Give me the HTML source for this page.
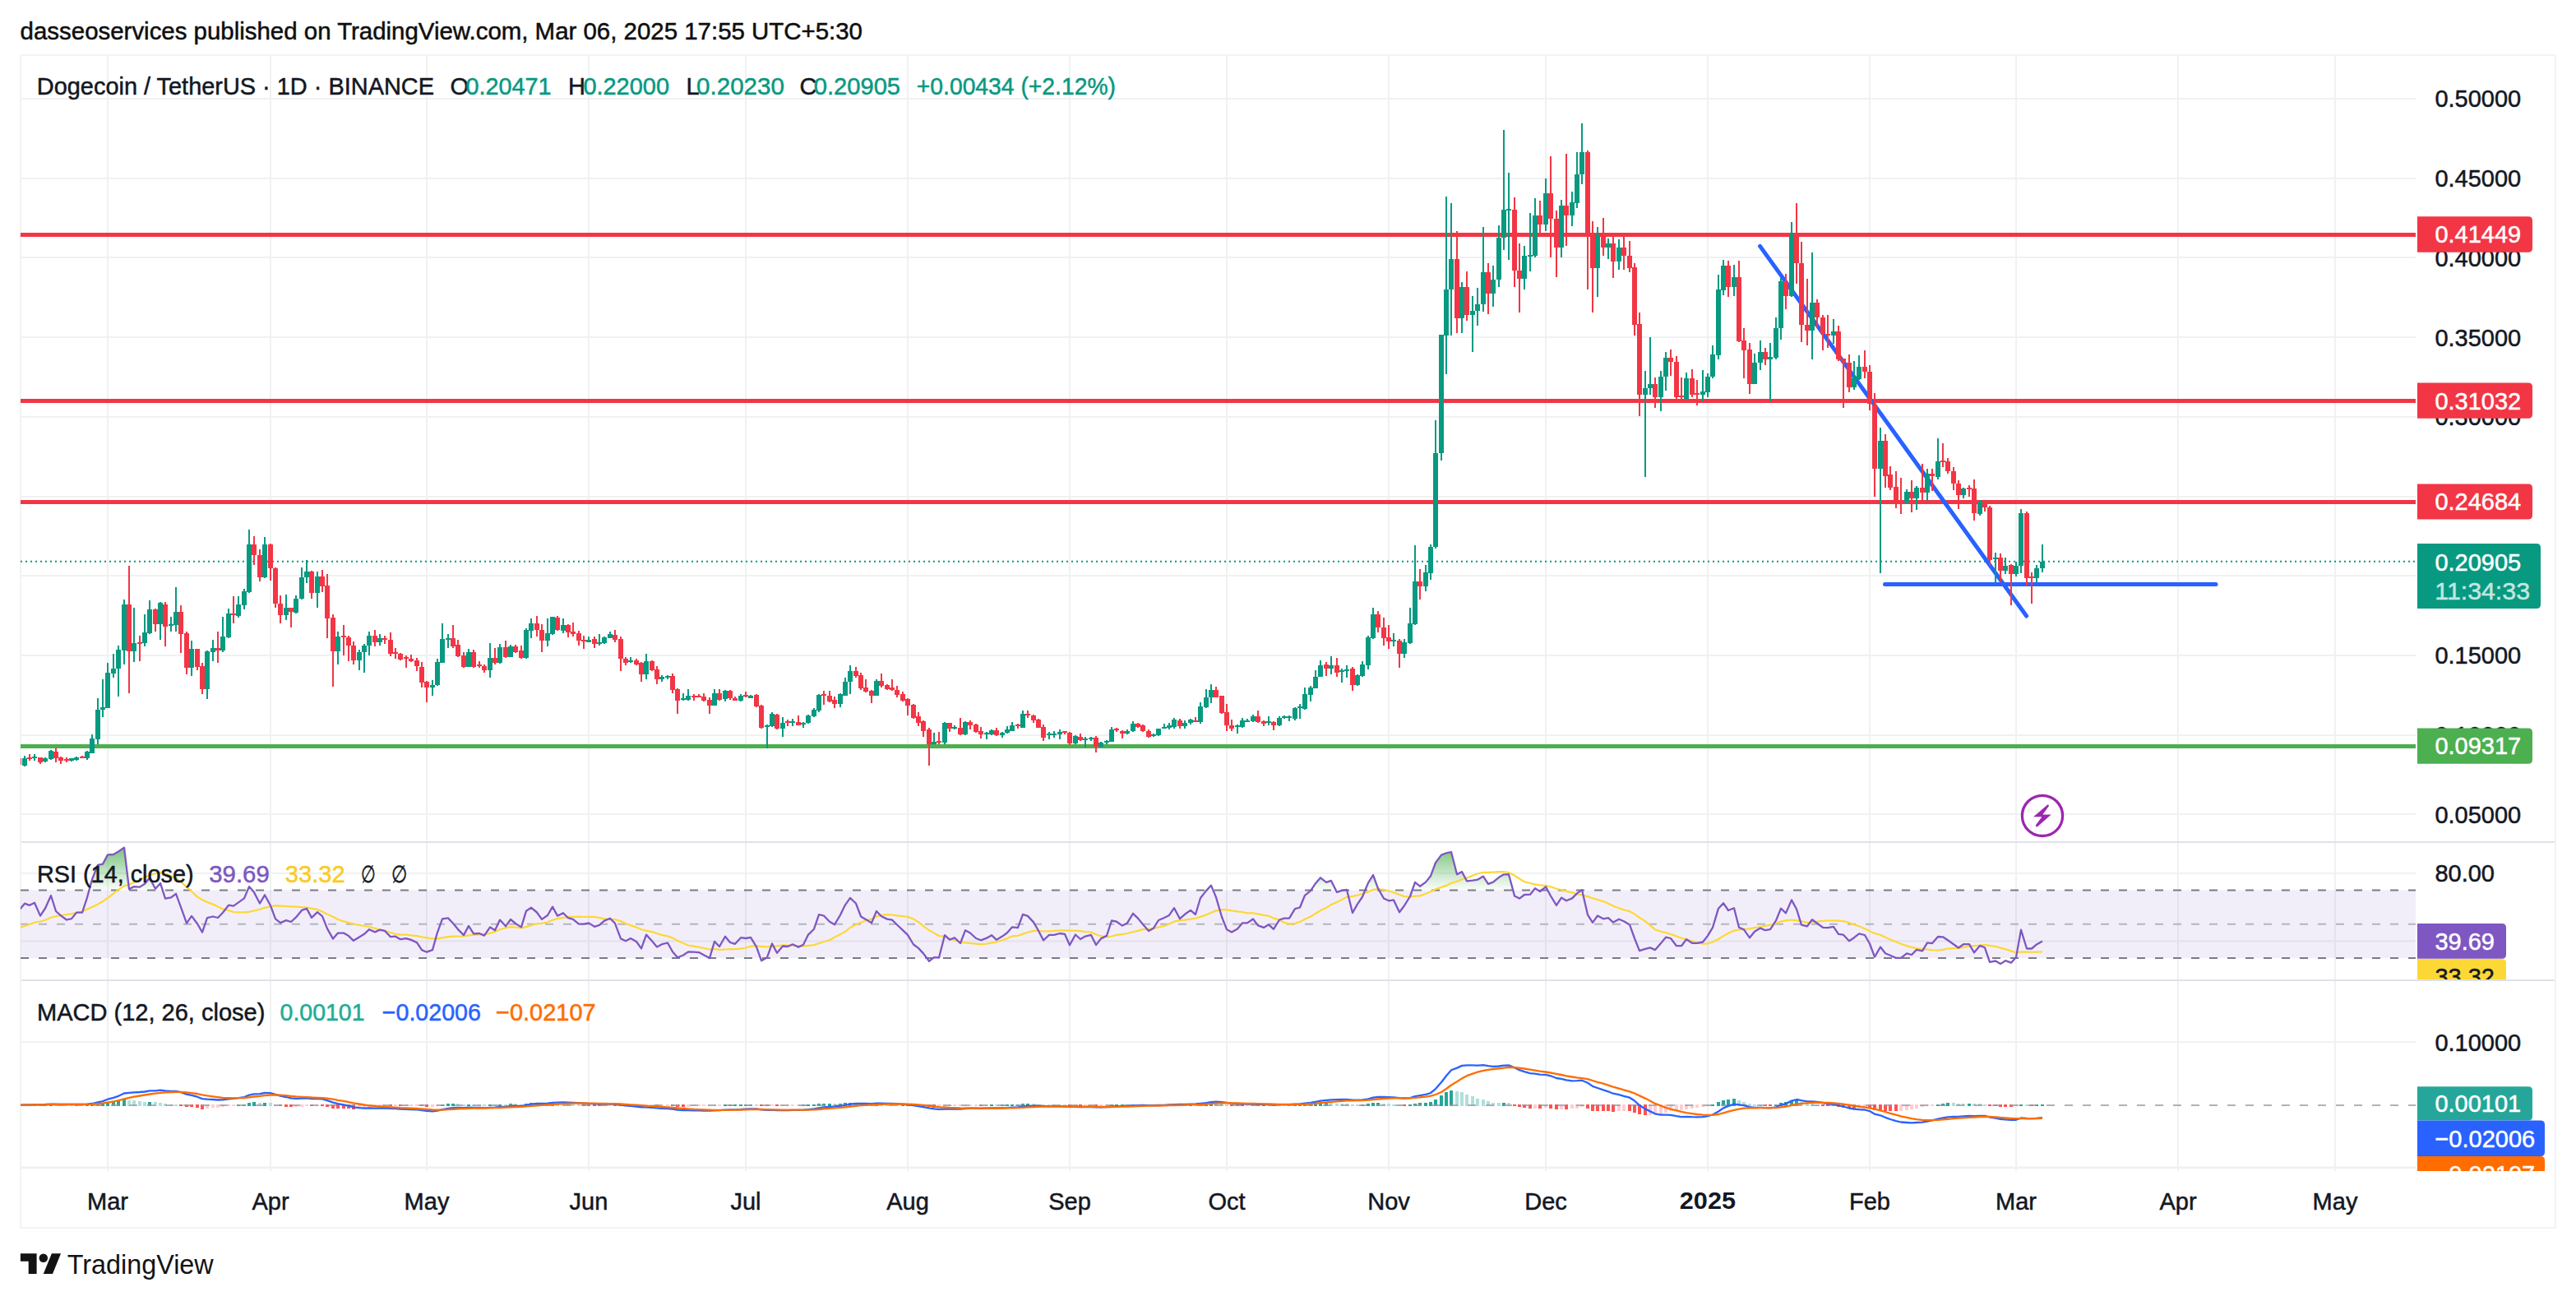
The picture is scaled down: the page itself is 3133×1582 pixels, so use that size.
<!DOCTYPE html><html><head><meta charset="utf-8"><style>html,body{margin:0;padding:0;background:#fff;width:3133px;height:1582px;overflow:hidden;position:relative}</style></head><body><svg width="3133" height="1582" viewBox="0 0 3133 1582" style="position:absolute;left:0;top:0"><rect width="3133" height="1582" fill="#ffffff"/><defs><clipPath id="cpMain"><rect x="25" y="67" width="2913" height="956"/></clipPath><clipPath id="cpRsi"><rect x="25" y="1025" width="2913" height="166"/></clipPath><clipPath id="cpMacd"><rect x="25" y="1193" width="2913" height="231"/></clipPath><clipPath id="cpRsiAx"><rect x="2938" y="1025" width="170" height="166"/></clipPath><clipPath id="cpMacdAx"><rect x="2938" y="1193" width="170" height="231"/></clipPath><linearGradient id="gOB" x1="0" y1="0" x2="0" y2="1"><stop offset="0" stop-color="#4CAF50" stop-opacity="0.75"/><stop offset="1" stop-color="#4CAF50" stop-opacity="0.02"/></linearGradient><linearGradient id="gOS" x1="0" y1="0" x2="0" y2="1"><stop offset="0" stop-color="#F23645" stop-opacity="0.02"/><stop offset="1" stop-color="#F23645" stop-opacity="0.75"/></linearGradient></defs><rect x="130" y="67" width="2" height="1357" fill="#F0F1F1"/><rect x="328" y="67" width="2" height="1357" fill="#F0F1F1"/><rect x="518" y="67" width="2" height="1357" fill="#F0F1F1"/><rect x="715" y="67" width="2" height="1357" fill="#F0F1F1"/><rect x="906" y="67" width="2" height="1357" fill="#F0F1F1"/><rect x="1103" y="67" width="2" height="1357" fill="#F0F1F1"/><rect x="1300" y="67" width="2" height="1357" fill="#F0F1F1"/><rect x="1491" y="67" width="2" height="1357" fill="#F0F1F1"/><rect x="1688" y="67" width="2" height="1357" fill="#F0F1F1"/><rect x="1879" y="67" width="2" height="1357" fill="#F0F1F1"/><rect x="2076" y="67" width="2" height="1357" fill="#F0F1F1"/><rect x="2273" y="67" width="2" height="1357" fill="#F0F1F1"/><rect x="2451" y="67" width="2" height="1357" fill="#F0F1F1"/><rect x="2648" y="67" width="2" height="1357" fill="#F0F1F1"/><rect x="2839" y="67" width="2" height="1357" fill="#F0F1F1"/><rect x="25" y="989" width="2913" height="2" fill="#F0F1F1"/><rect x="25" y="893" width="2913" height="2" fill="#F0F1F1"/><rect x="25" y="796" width="2913" height="2" fill="#F0F1F1"/><rect x="25" y="699" width="2913" height="2" fill="#F0F1F1"/><rect x="25" y="603" width="2913" height="2" fill="#F0F1F1"/><rect x="25" y="506" width="2913" height="2" fill="#F0F1F1"/><rect x="25" y="409" width="2913" height="2" fill="#F0F1F1"/><rect x="25" y="312" width="2913" height="2" fill="#F0F1F1"/><rect x="25" y="216" width="2913" height="2" fill="#F0F1F1"/><rect x="25" y="119" width="2913" height="2" fill="#F0F1F1"/><rect x="25" y="1060.8" width="2913" height="2" fill="#F0F1F1"/><rect x="25" y="1143.4" width="2913" height="2" fill="#F0F1F1"/><rect x="25" y="1266.1" width="2913" height="2" fill="#F0F1F1"/><rect x="25" y="1419.3" width="2913" height="2" fill="#F0F1F1"/><rect x="25" y="1418.5" width="2913" height="2" fill="#F0F1F1"/><rect x="25" y="67" width="3083" height="1426" fill="none" stroke="#F2F3F3" stroke-width="2"/><rect x="26" y="1023" width="3081" height="2" fill="#DEE2EA"/><rect x="26" y="1191" width="3081" height="2" fill="#DEE2EA"/><g clip-path="url(#cpMain)"><rect x="25" y="283" width="2913" height="5" fill="#F23645"/><rect x="25" y="485" width="2913" height="5" fill="#F23645"/><rect x="25" y="608" width="2913" height="5" fill="#F23645"/><rect x="25" y="905" width="2913" height="5" fill="#4CAF50"/><line x1="25" y1="682.7" x2="2938" y2="682.7" stroke="#089981" stroke-width="2" stroke-dasharray="2 4"/><line x1="2140.6" y1="299.4" x2="2464.6" y2="749" stroke="#2962FF" stroke-width="5" stroke-linecap="round"/><line x1="2292.5" y1="710.5" x2="2695" y2="710.5" stroke="#2962FF" stroke-width="5" stroke-linecap="round"/><path d="M29 919h2v13h-2zM27 922h6v9h-6zM41 917h2v8h-2zM39 920h6v2h-6zM54 921h2v6h-2zM52 922h6v4h-6zM61 912h2v12h-2zM59 913h6v10h-6zM86 922h2v4h-2zM84 922h6v3h-6zM92 920h2v5h-2zM90 921h6v3h-6zM105 913h2v11h-2zM103 914h6v8h-6zM111 893h2v23h-2zM109 898h6v18h-6zM118 849h2v56h-2zM116 863h6v36h-6zM124 826h2v46h-2zM122 860h6v3h-6zM130 806h2v55h-2zM128 818h6v43h-6zM137 795h2v29h-2zM135 813h6v6h-6zM143 785h2v62h-2zM141 790h6v23h-6zM150 729h2v79h-2zM148 735h6v56h-6zM162 739h2v66h-2zM160 782h6v10h-6zM175 747h2v39h-2zM173 769h6v13h-6zM181 730h2v41h-2zM179 741h6v29h-6zM194 732h2v46h-2zM192 733h6v26h-6zM207 750h2v18h-2zM205 759h6v2h-6zM213 714h2v54h-2zM211 744h6v16h-6zM232 779h2v43h-2zM230 789h6v23h-6zM251 791h2v59h-2zM249 792h6v46h-6zM258 778h2v26h-2zM256 788h6v5h-6zM270 750h2v43h-2zM268 774h6v17h-6zM277 740h2v36h-2zM275 746h6v29h-6zM289 725h2v26h-2zM287 735h6v14h-6zM296 716h2v25h-2zM294 719h6v17h-6zM302 644h2v77h-2zM300 662h6v58h-6zM321 653h2v50h-2zM319 662h6v40h-6zM347 723h2v31h-2zM345 739h6v9h-6zM359 724h2v22h-2zM357 728h6v17h-6zM366 690h2v39h-2zM364 702h6v26h-6zM372 681h2v28h-2zM370 695h6v7h-6zM385 695h2v44h-2zM383 701h6v20h-6zM410 768h2v40h-2zM408 774h6v18h-6zM436 790h2v25h-2zM434 793h6v10h-6zM442 783h2v35h-2zM440 785h6v8h-6zM448 768h2v29h-2zM446 773h6v12h-6zM461 771h2v14h-2zM459 776h6v5h-6zM525 827h2v19h-2zM523 833h6v3h-6zM531 801h2v33h-2zM529 805h6v28h-6zM537 758h2v48h-2zM535 777h6v29h-6zM544 771h2v17h-2zM542 776h6v2h-6zM569 789h2v22h-2zM567 793h6v18h-6zM595 782h2v42h-2zM593 800h6v15h-6zM607 783h2v24h-2zM605 787h6v19h-6zM620 784h2v15h-2zM618 786h6v13h-6zM639 764h2v37h-2zM637 766h6v34h-6zM645 752h2v24h-2zM643 758h6v9h-6zM665 752h2v34h-2zM663 770h6v9h-6zM671 750h2v22h-2zM669 750h6v21h-6zM684 752h2v18h-2zM682 760h6v7h-6zM715 774h2v7h-2zM713 778h6v3h-6zM728 771h2v14h-2zM726 781h6v2h-6zM734 774h2v9h-2zM732 775h6v7h-6zM741 768h2v8h-2zM739 771h6v5h-6zM766 799h2v7h-2zM764 803h6v2h-6zM785 795h2v31h-2zM783 804h6v16h-6zM804 821h2v8h-2zM802 823h6v3h-6zM811 821h2v5h-2zM809 822h6v2h-6zM830 843h2v9h-2zM828 849h6v2h-6zM836 838h2v14h-2zM834 846h6v5h-6zM868 838h2v20h-2zM866 843h6v15h-6zM881 839h2v14h-2zM879 840h6v10h-6zM900 844h2v9h-2zM898 846h6v6h-6zM912 845h2v4h-2zM910 846h6v3h-6zM932 881h2v29h-2zM930 882h6v2h-6zM938 866h2v18h-2zM936 868h6v15h-6zM951 872h2v24h-2zM949 879h6v7h-6zM963 874h2v9h-2zM961 877h6v2h-6zM976 878h2v7h-2zM974 879h6v2h-6zM982 869h2v11h-2zM980 870h6v9h-6zM989 861h2v11h-2zM987 863h6v8h-6zM995 844h2v22h-2zM993 845h6v19h-6zM1021 843h2v17h-2zM1019 844h6v12h-6zM1027 824h2v22h-2zM1025 829h6v17h-6zM1033 809h2v35h-2zM1031 816h6v13h-6zM1065 826h2v20h-2zM1063 828h6v18h-6zM1135 891h2v14h-2zM1133 902h6v3h-6zM1148 878h2v27h-2zM1146 879h6v24h-6zM1160 882h2v5h-2zM1158 884h6v2h-6zM1173 877h2v17h-2zM1171 878h6v15h-6zM1199 890h2v9h-2zM1197 891h6v2h-6zM1205 887h2v7h-2zM1203 888h6v5h-6zM1218 890h2v7h-2zM1216 891h6v3h-6zM1224 883h2v9h-2zM1222 887h6v4h-6zM1230 878h2v11h-2zM1228 882h6v7h-6zM1243 864h2v21h-2zM1241 868h6v17h-6zM1275 890h2v9h-2zM1273 892h6v2h-6zM1281 889h2v8h-2zM1279 892h6v2h-6zM1288 887h2v12h-2zM1286 890h6v3h-6zM1307 894h2v11h-2zM1305 895h6v9h-6zM1319 896h2v13h-2zM1317 898h6v2h-6zM1326 896h2v5h-2zM1324 897h6v2h-6zM1338 902h2v7h-2zM1336 903h6v5h-6zM1345 900h2v5h-2zM1343 901h6v2h-6zM1351 884h2v18h-2zM1349 887h6v15h-6zM1370 887h2v6h-2zM1368 889h6v3h-6zM1377 877h2v13h-2zM1375 880h6v9h-6zM1402 892h2v4h-2zM1400 893h6v2h-6zM1408 886h2v9h-2zM1406 886h6v8h-6zM1415 880h2v6h-2zM1413 884h6v2h-6zM1421 879h2v8h-2zM1419 882h6v3h-6zM1427 873h2v13h-2zM1425 875h6v9h-6zM1440 876h2v10h-2zM1438 879h6v4h-6zM1447 874h2v7h-2zM1445 875h6v4h-6zM1459 854h2v26h-2zM1457 859h6v19h-6zM1466 838h2v23h-2zM1464 848h6v12h-6zM1472 832h2v23h-2zM1470 839h6v9h-6zM1504 881h2v11h-2zM1502 882h6v2h-6zM1510 873h2v12h-2zM1508 876h6v8h-6zM1516 874h2v4h-2zM1514 876h6v2h-6zM1523 869h2v9h-2zM1521 871h6v6h-6zM1542 871h2v11h-2zM1540 877h6v2h-6zM1555 871h2v12h-2zM1553 873h6v9h-6zM1561 870h2v4h-2zM1559 871h6v2h-6zM1567 870h2v7h-2zM1565 871h6v2h-6zM1574 860h2v16h-2zM1572 861h6v13h-6zM1580 856h2v18h-2zM1578 859h6v2h-6zM1586 836h2v27h-2zM1584 844h6v18h-6zM1593 834h2v19h-2zM1591 836h6v9h-6zM1599 815h2v22h-2zM1597 823h6v14h-6zM1605 803h2v20h-2zM1603 809h6v14h-6zM1618 798h2v22h-2zM1616 809h6v4h-6zM1631 813h2v17h-2zM1629 815h6v2h-6zM1637 809h2v15h-2zM1635 814h6v2h-6zM1650 820h2v14h-2zM1648 821h6v12h-6zM1656 804h2v19h-2zM1654 808h6v14h-6zM1663 773h2v41h-2zM1661 775h6v34h-6zM1669 739h2v38h-2zM1667 747h6v29h-6zM1694 770h2v16h-2zM1692 778h6v2h-6zM1707 777h2v23h-2zM1705 781h6v14h-6zM1714 739h2v44h-2zM1712 758h6v24h-6zM1720 663h2v97h-2zM1718 707h6v52h-6zM1733 687h2v32h-2zM1731 696h6v17h-6zM1739 662h2v43h-2zM1737 665h6v32h-6zM1745 511h2v156h-2zM1743 551h6v114h-6zM1752 407h2v153h-2zM1750 407h6v144h-6zM1758 239h2v216h-2zM1756 352h6v56h-6zM1764 247h2v161h-2zM1762 315h6v37h-6zM1777 343h2v62h-2zM1775 349h6v38h-6zM1790 360h2v68h-2zM1788 378h6v5h-6zM1796 350h2v46h-2zM1794 370h6v8h-6zM1803 276h2v103h-2zM1801 331h6v39h-6zM1815 323h2v50h-2zM1813 340h6v17h-6zM1822 274h2v75h-2zM1820 289h6v51h-6zM1828 158h2v146h-2zM1826 255h6v34h-6zM1834 210h2v106h-2zM1832 254h6v2h-6zM1853 299h2v53h-2zM1851 311h6v28h-6zM1860 259h2v71h-2zM1858 310h6v2h-6zM1866 241h2v72h-2zM1864 262h6v49h-6zM1879 217h2v64h-2zM1877 235h6v38h-6zM1898 243h2v70h-2zM1896 250h6v51h-6zM1911 233h2v42h-2zM1909 246h6v16h-6zM1917 185h2v68h-2zM1915 212h6v35h-6zM1923 150h2v74h-2zM1921 185h6v27h-6zM1942 276h2v85h-2zM1940 285h6v41h-6zM1955 290h2v25h-2zM1953 296h6v5h-6zM1968 291h2v37h-2zM1966 301h6v17h-6zM2000 451h2v129h-2zM1998 472h6v8h-6zM2006 410h2v70h-2zM2004 467h6v5h-6zM2019 451h2v49h-2zM2017 458h6v25h-6zM2025 428h2v47h-2zM2023 435h6v23h-6zM2050 453h2v33h-2zM2048 460h6v25h-6zM2070 450h2v38h-2zM2068 476h6v4h-6zM2076 454h2v29h-2zM2074 458h6v19h-6zM2082 420h2v40h-2zM2080 431h6v27h-6zM2089 334h2v103h-2zM2087 352h6v80h-6zM2095 316h2v43h-2zM2093 323h6v30h-6zM2108 322h2v38h-2zM2106 337h6v12h-6zM2133 430h2v37h-2zM2131 441h6v26h-6zM2140 414h2v36h-2zM2138 428h6v13h-6zM2152 417h2v71h-2zM2150 434h6v3h-6zM2159 386h2v51h-2zM2157 399h6v36h-6zM2165 338h2v75h-2zM2163 342h6v57h-6zM2178 270h2v91h-2zM2176 284h6v76h-6zM2203 307h2v130h-2zM2201 368h6v34h-6zM2229 388h2v30h-2zM2227 403h6v5h-6zM2254 439h2v35h-2zM2252 460h6v11h-6zM2260 432h2v30h-2zM2258 446h6v15h-6zM2286 520h2v177h-2zM2284 536h6v34h-6zM2318 595h2v18h-2zM2316 598h6v13h-6zM2330 591h2v29h-2zM2328 593h6v13h-6zM2343 570h2v40h-2zM2341 576h6v23h-6zM2356 533h2v50h-2zM2354 561h6v19h-6zM2387 593h2v13h-2zM2385 594h6v8h-6zM2407 608h2v19h-2zM2405 610h6v15h-6zM2426 672h2v36h-2zM2424 678h6v2h-6zM2438 678h2v20h-2zM2436 688h6v6h-6zM2451 683h2v18h-2zM2449 688h6v10h-6zM2457 619h2v78h-2zM2455 624h6v64h-6zM2476 687h2v21h-2zM2474 691h6v12h-6zM2483 662h2v34h-2zM2481 683h6v8h-6z" fill="#089981"/><path d="M22 918h2v17h-2zM20 922h6v8h-6zM35 917h2v8h-2zM33 921h6v2h-6zM48 921h2v8h-2zM46 921h6v6h-6zM67 910h2v17h-2zM65 914h6v8h-6zM73 920h2v9h-2zM71 921h6v4h-6zM80 921h2v6h-2zM78 923h6v2h-6zM99 919h2v3h-2zM97 920h6v2h-6zM156 688h2v155h-2zM154 735h6v57h-6zM169 773h2v31h-2zM167 781h6v2h-6zM188 740h2v28h-2zM186 741h6v18h-6zM200 732h2v54h-2zM198 735h6v27h-6zM219 736h2v58h-2zM217 744h6v27h-6zM226 768h2v52h-2zM224 770h6v42h-6zM239 789h2v26h-2zM237 789h6v22h-6zM245 806h2v38h-2zM243 810h6v28h-6zM264 768h2v38h-2zM262 788h6v3h-6zM283 725h2v33h-2zM281 746h6v2h-6zM308 652h2v35h-2zM306 662h6v13h-6zM315 668h2v39h-2zM313 675h6v27h-6zM328 661h2v45h-2zM326 662h6v29h-6zM334 690h2v49h-2zM332 691h6v43h-6zM340 724h2v34h-2zM338 734h6v14h-6zM353 739h2v24h-2zM351 739h6v5h-6zM378 694h2v34h-2zM376 695h6v26h-6zM391 693h2v27h-2zM389 701h6v12h-6zM397 698h2v78h-2zM395 712h6v40h-6zM404 747h2v88h-2zM402 751h6v41h-6zM417 760h2v37h-2zM415 773h6v2h-6zM423 773h2v31h-2zM421 775h6v10h-6zM429 780h2v28h-2zM427 785h6v18h-6zM455 766h2v20h-2zM453 773h6v8h-6zM467 773h2v10h-2zM465 776h6v2h-6zM474 769h2v29h-2zM472 778h6v17h-6zM480 788h2v13h-2zM478 793h6v2h-6zM486 794h2v9h-2zM484 795h6v7h-6zM493 797h2v15h-2zM491 799h6v2h-6zM499 796h2v9h-2zM497 801h6v3h-6zM506 800h2v16h-2zM504 803h6v7h-6zM512 805h2v31h-2zM510 811h6v19h-6zM518 828h2v26h-2zM516 829h6v7h-6zM550 760h2v28h-2zM548 776h6v10h-6zM556 778h2v21h-2zM554 784h6v14h-6zM563 793h2v19h-2zM561 797h6v14h-6zM575 790h2v22h-2zM573 793h6v18h-6zM582 804h2v8h-2zM580 808h6v2h-6zM588 808h2v10h-2zM586 810h6v5h-6zM601 788h2v20h-2zM599 800h6v6h-6zM614 779h2v21h-2zM612 787h6v12h-6zM626 784h2v10h-2zM624 786h6v7h-6zM633 785h2v16h-2zM631 791h6v9h-6zM652 749h2v25h-2zM650 758h6v8h-6zM658 759h2v34h-2zM656 766h6v13h-6zM677 749h2v18h-2zM675 751h6v15h-6zM690 759h2v16h-2zM688 760h6v9h-6zM696 757h2v17h-2zM694 768h6v3h-6zM703 767h2v18h-2zM701 770h6v9h-6zM709 773h2v16h-2zM707 778h6v2h-6zM722 774h2v14h-2zM720 777h6v6h-6zM747 766h2v15h-2zM745 772h6v6h-6zM754 774h2v42h-2zM752 777h6v24h-6zM760 799h2v10h-2zM758 801h6v5h-6zM773 801h2v8h-2zM771 803h6v5h-6zM779 805h2v24h-2zM777 806h6v14h-6zM792 803h2v13h-2zM790 804h6v11h-6zM798 810h2v22h-2zM796 814h6v12h-6zM817 819h2v24h-2zM815 822h6v17h-6zM823 837h2v31h-2zM821 838h6v14h-6zM843 844h2v8h-2zM841 846h6v2h-6zM849 844h2v4h-2zM847 846h6v2h-6zM855 843h2v10h-2zM853 847h6v5h-6zM862 848h2v20h-2zM860 851h6v7h-6zM874 838h2v14h-2zM872 843h6v8h-6zM887 839h2v12h-2zM885 840h6v9h-6zM893 847h2v5h-2zM891 849h6v3h-6zM906 841h2v7h-2zM904 845h6v2h-6zM919 844h2v16h-2zM917 845h6v14h-6zM925 857h2v29h-2zM923 858h6v27h-6zM944 868h2v19h-2zM942 869h6v17h-6zM957 875h2v8h-2zM955 877h6v2h-6zM970 870h2v12h-2zM968 878h6v4h-6zM1001 840h2v17h-2zM999 844h6v2h-6zM1008 840h2v14h-2zM1006 846h6v7h-6zM1014 847h2v14h-2zM1012 851h6v5h-6zM1040 811h2v13h-2zM1038 816h6v6h-6zM1046 818h2v21h-2zM1044 821h6v16h-6zM1052 826h2v16h-2zM1050 836h6v5h-6zM1059 839h2v16h-2zM1057 840h6v6h-6zM1071 819h2v17h-2zM1069 828h6v6h-6zM1078 832h2v7h-2zM1076 833h6v5h-6zM1084 826h2v14h-2zM1082 836h6v3h-6zM1090 834h2v14h-2zM1088 839h6v6h-6zM1097 841h2v12h-2zM1095 844h6v8h-6zM1103 849h2v21h-2zM1101 850h6v8h-6zM1110 856h2v18h-2zM1108 857h6v16h-6zM1116 866h2v17h-2zM1114 871h6v8h-6zM1122 876h2v20h-2zM1120 877h6v12h-6zM1129 885h2v46h-2zM1127 887h6v18h-6zM1141 890h2v15h-2zM1139 901h6v2h-6zM1154 879h2v11h-2zM1152 879h6v7h-6zM1167 873h2v21h-2zM1165 885h6v8h-6zM1179 876h2v11h-2zM1177 878h6v4h-6zM1186 880h2v11h-2zM1184 881h6v9h-6zM1192 884h2v14h-2zM1190 889h6v4h-6zM1211 885h2v10h-2zM1209 888h6v6h-6zM1237 880h2v6h-2zM1235 881h6v2h-6zM1249 864h2v9h-2zM1247 868h6v2h-6zM1256 869h2v10h-2zM1254 870h6v6h-6zM1262 874h2v11h-2zM1260 875h6v10h-6zM1268 881h2v20h-2zM1266 884h6v13h-6zM1294 889h2v4h-2zM1292 889h6v2h-6zM1300 890h2v16h-2zM1298 891h6v13h-6zM1313 892h2v9h-2zM1311 896h6v4h-6zM1332 895h2v20h-2zM1330 897h6v11h-6zM1357 885h2v5h-2zM1355 886h6v2h-6zM1364 888h2v10h-2zM1362 889h6v3h-6zM1383 879h2v6h-2zM1381 880h6v4h-6zM1389 881h2v9h-2zM1387 882h6v7h-6zM1396 887h2v10h-2zM1394 889h6v7h-6zM1434 874h2v12h-2zM1432 876h6v7h-6zM1453 872h2v6h-2zM1451 876h6v2h-6zM1478 835h2v13h-2zM1476 839h6v9h-6zM1485 846h2v22h-2zM1483 846h6v21h-6zM1491 856h2v33h-2zM1489 866h6v16h-6zM1497 875h2v14h-2zM1495 882h6v4h-6zM1529 864h2v15h-2zM1527 871h6v7h-6zM1536 876h2v7h-2zM1534 877h6v3h-6zM1548 877h2v11h-2zM1546 878h6v4h-6zM1612 805h2v17h-2zM1610 808h6v5h-6zM1625 800h2v23h-2zM1623 809h6v9h-6zM1644 811h2v29h-2zM1642 813h6v20h-6zM1675 743h2v26h-2zM1673 747h6v16h-6zM1682 751h2v34h-2zM1680 763h6v13h-6zM1688 760h2v29h-2zM1686 775h6v5h-6zM1701 777h2v35h-2zM1699 779h6v16h-6zM1726 692h2v37h-2zM1724 707h6v6h-6zM1771 281h2v124h-2zM1769 315h6v72h-6zM1783 330h2v60h-2zM1781 349h6v34h-6zM1809 320h2v62h-2zM1807 331h6v26h-6zM1841 240h2v109h-2zM1839 255h6v74h-6zM1847 296h2v84h-2zM1845 329h6v10h-6zM1872 244h2v39h-2zM1870 262h6v11h-6zM1885 190h2v123h-2zM1883 235h6v31h-6zM1892 256h2v81h-2zM1890 266h6v35h-6zM1904 187h2v112h-2zM1902 250h6v12h-6zM1930 183h2v169h-2zM1928 185h6v100h-6zM1936 269h2v111h-2zM1934 285h6v41h-6zM1949 265h2v46h-2zM1947 285h6v16h-6zM1961 288h2v50h-2zM1959 296h6v22h-6zM1974 288h2v40h-2zM1972 301h6v10h-6zM1981 293h2v38h-2zM1979 311h6v15h-6zM1987 320h2v88h-2zM1985 325h6v70h-6zM1993 380h2v126h-2zM1991 394h6v86h-6zM2012 459h2v37h-2zM2010 467h6v16h-6zM2031 425h2v32h-2zM2029 435h6v5h-6zM2038 433h2v57h-2zM2036 440h6v43h-6zM2044 459h2v26h-2zM2042 481h6v2h-6zM2057 449h2v34h-2zM2055 460h6v20h-6zM2063 462h2v31h-2zM2061 478h6v2h-6zM2101 317h2v44h-2zM2099 323h6v26h-6zM2114 317h2v99h-2zM2112 337h6v78h-6zM2120 399h2v61h-2zM2118 414h6v12h-6zM2127 417h2v62h-2zM2125 425h6v42h-6zM2146 423h2v21h-2zM2144 428h6v9h-6zM2171 333h2v43h-2zM2169 342h6v18h-6zM2184 247h2v98h-2zM2182 284h6v36h-6zM2190 294h2v122h-2zM2188 320h6v75h-6zM2197 339h2v81h-2zM2195 395h6v7h-6zM2209 364h2v35h-2zM2207 368h6v18h-6zM2216 383h2v43h-2zM2214 386h6v20h-6zM2222 383h2v40h-2zM2220 406h6v2h-6zM2235 396h2v43h-2zM2233 403h6v34h-6zM2241 436h2v60h-2zM2239 436h6v5h-6zM2248 431h2v46h-2zM2246 441h6v30h-6zM2267 426h2v34h-2zM2265 446h6v6h-6zM2273 444h2v55h-2zM2271 452h6v39h-6zM2279 478h2v126h-2zM2277 492h6v78h-6zM2292 528h2v65h-2zM2290 536h6v43h-6zM2298 567h2v29h-2zM2296 577h6v16h-6zM2305 573h2v45h-2zM2303 592h6v19h-6zM2311 581h2v44h-2zM2309 610h6v2h-6zM2324 584h2v39h-2zM2322 598h6v8h-6zM2337 564h2v44h-2zM2335 593h6v6h-6zM2349 570h2v27h-2zM2347 576h6v3h-6zM2362 539h2v29h-2zM2360 560h6v2h-6zM2368 557h2v19h-2zM2366 561h6v12h-6zM2375 568h2v28h-2zM2373 573h6v15h-6zM2381 584h2v35h-2zM2379 588h6v14h-6zM2394 590h2v14h-2zM2392 593h6v2h-6zM2400 583h2v50h-2zM2398 594h6v30h-6zM2413 609h2v13h-2zM2411 611h6v6h-6zM2419 615h2v73h-2zM2417 617h6v64h-6zM2432 673h2v35h-2zM2430 678h6v16h-6zM2445 686h2v50h-2zM2443 687h6v11h-6zM2464 622h2v90h-2zM2462 624h6v79h-6zM2470 696h2v38h-2zM2468 701h6v2h-6z" fill="#F23645"/></g><text x="24.6" y="47.8" font-family='"Liberation Sans", sans-serif' font-size="29.5" font-weight="normal" fill="#0E0E0E" stroke="#0E0E0E" stroke-width="0.5" text-anchor="start"  textLength="1024.4" lengthAdjust="spacingAndGlyphs">dasseoservices published on TradingView.com, Mar 06, 2025 17:55 UTC+5:30</text><text x="44.8" y="115.3" font-family='"Liberation Sans", sans-serif' font-size="29" font-weight="normal" fill="#131722" stroke="#131722" stroke-width="0.5" text-anchor="start"  textLength="483.2" lengthAdjust="spacingAndGlyphs">Dogecoin / TetherUS · 1D · BINANCE</text><text x="547.4" y="115.3" font-family='"Liberation Sans", sans-serif' font-size="29" font-weight="normal" fill="#131722" stroke="#131722" stroke-width="0.5" text-anchor="start" >O</text><text x="566.5" y="115.3" font-family='"Liberation Sans", sans-serif' font-size="29" font-weight="normal" fill="#089981" stroke="#089981" stroke-width="0.5" text-anchor="start"  textLength="104.1" lengthAdjust="spacingAndGlyphs">0.20471</text><text x="691" y="115.3" font-family='"Liberation Sans", sans-serif' font-size="29" font-weight="normal" fill="#131722" stroke="#131722" stroke-width="0.5" text-anchor="start" >H</text><text x="709.4" y="115.3" font-family='"Liberation Sans", sans-serif' font-size="29" font-weight="normal" fill="#089981" stroke="#089981" stroke-width="0.5" text-anchor="start"  textLength="104.6" lengthAdjust="spacingAndGlyphs">0.22000</text><text x="834.6" y="115.3" font-family='"Liberation Sans", sans-serif' font-size="29" font-weight="normal" fill="#131722" stroke="#131722" stroke-width="0.5" text-anchor="start" >L</text><text x="847.0" y="115.3" font-family='"Liberation Sans", sans-serif' font-size="29" font-weight="normal" fill="#089981" stroke="#089981" stroke-width="0.5" text-anchor="start"  textLength="107.0" lengthAdjust="spacingAndGlyphs">0.20230</text><text x="972.4" y="115.3" font-family='"Liberation Sans", sans-serif' font-size="29" font-weight="normal" fill="#131722" stroke="#131722" stroke-width="0.5" text-anchor="start" >C</text><text x="989.8" y="115.3" font-family='"Liberation Sans", sans-serif' font-size="29" font-weight="normal" fill="#089981" stroke="#089981" stroke-width="0.5" text-anchor="start"  textLength="105.2" lengthAdjust="spacingAndGlyphs">0.20905</text><text x="1114.8" y="115.3" font-family='"Liberation Sans", sans-serif' font-size="29" font-weight="normal" fill="#089981" stroke="#089981" stroke-width="0.5" text-anchor="start"  textLength="242.2" lengthAdjust="spacingAndGlyphs">+0.00434 (+2.12%)</text><g clip-path="url(#cpRsi)"><rect x="25" y="1082.4" width="2913" height="82.6" fill="#7E57C2" fill-opacity="0.1"/><line x1="25" y1="1082.4" x2="2938" y2="1082.4" stroke="#787B86" stroke-width="2" stroke-dasharray="10 12"/><line x1="25" y1="1123.7" x2="2938" y2="1123.7" stroke="#B2B5BE" stroke-width="2" stroke-dasharray="10 12"/><line x1="25" y1="1165.0" x2="2938" y2="1165.0" stroke="#787B86" stroke-width="2" stroke-dasharray="10 12"/><path d="M23,1082.4 L23,1082.4 L30,1082.4 L36,1082.4 L42,1082.4 L49,1082.4 L55,1082.4 L62,1082.4 L68,1082.4 L74,1082.4 L81,1082.4 L87,1082.4 L93,1082.4 L100,1082.4 L106,1082.4 L112,1069.2 L119,1051.8 L125,1050.6 L131,1039.4 L138,1039.0 L144,1035.5 L151,1030.6 L157,1081.0 L163,1078.1 L170,1078.6 L176,1074.7 L182,1067.4 L189,1080.7 L195,1073.9 L201,1082.4 L208,1082.4 L214,1082.4 L220,1082.4 L227,1082.4 L233,1082.4 L240,1082.4 L246,1082.4 L252,1082.4 L259,1082.4 L265,1082.4 L271,1082.4 L278,1082.4 L284,1082.4 L290,1082.4 L297,1082.4 L303,1078.1 L309,1082.4 L316,1082.4 L322,1082.4 L329,1082.4 L335,1082.4 L341,1082.4 L348,1082.4 L354,1082.4 L360,1082.4 L367,1082.4 L373,1082.4 L379,1082.4 L386,1082.4 L392,1082.4 L398,1082.4 L405,1082.4 L411,1082.4 L418,1082.4 L424,1082.4 L430,1082.4 L437,1082.4 L443,1082.4 L449,1082.4 L456,1082.4 L462,1082.4 L468,1082.4 L475,1082.4 L481,1082.4 L487,1082.4 L494,1082.4 L500,1082.4 L507,1082.4 L513,1082.4 L519,1082.4 L526,1082.4 L532,1082.4 L538,1082.4 L545,1082.4 L551,1082.4 L557,1082.4 L564,1082.4 L570,1082.4 L576,1082.4 L583,1082.4 L589,1082.4 L596,1082.4 L602,1082.4 L608,1082.4 L615,1082.4 L621,1082.4 L627,1082.4 L634,1082.4 L640,1082.4 L646,1082.4 L653,1082.4 L659,1082.4 L666,1082.4 L672,1082.4 L678,1082.4 L685,1082.4 L691,1082.4 L697,1082.4 L704,1082.4 L710,1082.4 L716,1082.4 L723,1082.4 L729,1082.4 L735,1082.4 L742,1082.4 L748,1082.4 L755,1082.4 L761,1082.4 L767,1082.4 L774,1082.4 L780,1082.4 L786,1082.4 L793,1082.4 L799,1082.4 L805,1082.4 L812,1082.4 L818,1082.4 L824,1082.4 L831,1082.4 L837,1082.4 L844,1082.4 L850,1082.4 L856,1082.4 L863,1082.4 L869,1082.4 L875,1082.4 L882,1082.4 L888,1082.4 L894,1082.4 L901,1082.4 L907,1082.4 L913,1082.4 L920,1082.4 L926,1082.4 L933,1082.4 L939,1082.4 L945,1082.4 L952,1082.4 L958,1082.4 L964,1082.4 L971,1082.4 L977,1082.4 L983,1082.4 L990,1082.4 L996,1082.4 L1002,1082.4 L1009,1082.4 L1015,1082.4 L1022,1082.4 L1028,1082.4 L1034,1082.4 L1041,1082.4 L1047,1082.4 L1053,1082.4 L1060,1082.4 L1066,1082.4 L1072,1082.4 L1079,1082.4 L1085,1082.4 L1091,1082.4 L1098,1082.4 L1104,1082.4 L1111,1082.4 L1117,1082.4 L1123,1082.4 L1130,1082.4 L1136,1082.4 L1142,1082.4 L1149,1082.4 L1155,1082.4 L1161,1082.4 L1168,1082.4 L1174,1082.4 L1180,1082.4 L1187,1082.4 L1193,1082.4 L1200,1082.4 L1206,1082.4 L1212,1082.4 L1219,1082.4 L1225,1082.4 L1231,1082.4 L1238,1082.4 L1244,1082.4 L1250,1082.4 L1257,1082.4 L1263,1082.4 L1269,1082.4 L1276,1082.4 L1282,1082.4 L1289,1082.4 L1295,1082.4 L1301,1082.4 L1308,1082.4 L1314,1082.4 L1320,1082.4 L1327,1082.4 L1333,1082.4 L1339,1082.4 L1346,1082.4 L1352,1082.4 L1358,1082.4 L1365,1082.4 L1371,1082.4 L1378,1082.4 L1384,1082.4 L1390,1082.4 L1397,1082.4 L1403,1082.4 L1409,1082.4 L1416,1082.4 L1422,1082.4 L1428,1082.4 L1435,1082.4 L1441,1082.4 L1448,1082.4 L1454,1082.4 L1460,1082.4 L1467,1082.4 L1473,1076.6 L1479,1082.4 L1486,1082.4 L1492,1082.4 L1498,1082.4 L1505,1082.4 L1511,1082.4 L1517,1082.4 L1524,1082.4 L1530,1082.4 L1537,1082.4 L1543,1082.4 L1549,1082.4 L1556,1082.4 L1562,1082.4 L1568,1082.4 L1575,1082.4 L1581,1082.4 L1587,1082.4 L1594,1082.4 L1600,1074.2 L1606,1067.3 L1613,1072.8 L1619,1070.9 L1626,1082.4 L1632,1082.4 L1638,1082.0 L1645,1082.4 L1651,1082.4 L1657,1082.4 L1664,1073.6 L1670,1064.0 L1676,1080.4 L1683,1082.4 L1689,1082.4 L1695,1082.4 L1702,1082.4 L1708,1082.4 L1715,1082.4 L1721,1072.8 L1727,1077.7 L1734,1072.6 L1740,1065.2 L1746,1049.0 L1753,1039.6 L1759,1037.3 L1765,1036.0 L1772,1063.2 L1778,1060.0 L1784,1071.3 L1791,1070.6 L1797,1069.7 L1804,1065.6 L1810,1074.8 L1816,1072.6 L1823,1066.8 L1829,1063.3 L1835,1063.2 L1842,1082.4 L1848,1082.4 L1854,1082.4 L1861,1082.4 L1867,1080.3 L1873,1082.4 L1880,1078.3 L1886,1082.4 L1893,1082.4 L1899,1082.4 L1905,1082.4 L1912,1082.4 L1918,1082.4 L1924,1082.1 L1931,1082.4 L1937,1082.4 L1943,1082.4 L1950,1082.4 L1956,1082.4 L1962,1082.4 L1969,1082.4 L1975,1082.4 L1982,1082.4 L1988,1082.4 L1994,1082.4 L2001,1082.4 L2007,1082.4 L2013,1082.4 L2020,1082.4 L2026,1082.4 L2032,1082.4 L2039,1082.4 L2045,1082.4 L2051,1082.4 L2058,1082.4 L2064,1082.4 L2071,1082.4 L2077,1082.4 L2083,1082.4 L2090,1082.4 L2096,1082.4 L2102,1082.4 L2109,1082.4 L2115,1082.4 L2121,1082.4 L2128,1082.4 L2134,1082.4 L2141,1082.4 L2147,1082.4 L2153,1082.4 L2160,1082.4 L2166,1082.4 L2172,1082.4 L2179,1082.4 L2185,1082.4 L2191,1082.4 L2198,1082.4 L2204,1082.4 L2210,1082.4 L2217,1082.4 L2223,1082.4 L2230,1082.4 L2236,1082.4 L2242,1082.4 L2249,1082.4 L2255,1082.4 L2261,1082.4 L2268,1082.4 L2274,1082.4 L2280,1082.4 L2287,1082.4 L2293,1082.4 L2299,1082.4 L2306,1082.4 L2312,1082.4 L2319,1082.4 L2325,1082.4 L2331,1082.4 L2338,1082.4 L2344,1082.4 L2350,1082.4 L2357,1082.4 L2363,1082.4 L2369,1082.4 L2376,1082.4 L2382,1082.4 L2388,1082.4 L2395,1082.4 L2401,1082.4 L2408,1082.4 L2414,1082.4 L2420,1082.4 L2427,1082.4 L2433,1082.4 L2439,1082.4 L2446,1082.4 L2452,1082.4 L2458,1082.4 L2465,1082.4 L2471,1082.4 L2477,1082.4 L2484,1082.4 L2484,1082.4Z" fill="url(#gOB)"/><polyline points="23,1128.3 30,1126.0 36,1124.0 42,1121.7 49,1120.5 55,1118.7 62,1115.8 68,1114.2 74,1113.0 81,1112.2 87,1111.3 93,1109.8 100,1108.4 106,1105.6 112,1102.9 119,1099.6 125,1096.0 131,1091.8 138,1086.5 144,1081.6 151,1077.4 157,1075.5 163,1073.0 170,1070.1 176,1067.1 182,1064.1 189,1062.0 195,1060.8 201,1062.4 208,1065.3 214,1067.8 220,1072.4 227,1078.4 233,1084.0 240,1090.6 246,1094.3 252,1097.0 259,1099.6 265,1102.6 271,1105.6 278,1107.0 284,1109.0 290,1109.3 297,1109.4 303,1108.8 309,1107.5 316,1105.8 322,1103.9 329,1102.4 335,1101.2 341,1101.6 348,1102.0 354,1102.3 360,1102.7 367,1103.2 373,1103.4 379,1104.7 386,1105.9 392,1108.5 398,1111.7 405,1114.7 411,1118.0 418,1120.4 424,1121.9 430,1123.5 437,1124.9 443,1126.0 449,1127.0 456,1128.9 462,1130.8 468,1131.9 475,1134.0 481,1135.8 487,1136.7 494,1136.7 500,1137.3 507,1138.1 513,1139.3 519,1140.3 526,1141.4 532,1141.3 538,1140.4 545,1139.2 551,1138.6 557,1138.5 564,1138.3 570,1137.4 576,1136.9 583,1136.5 589,1136.1 596,1134.8 602,1133.1 608,1130.3 615,1128.2 621,1127.1 627,1127.5 634,1128.3 640,1127.2 646,1125.3 653,1123.3 659,1122.8 666,1121.2 672,1118.8 678,1117.1 685,1115.9 691,1114.8 697,1114.8 704,1114.6 710,1115.0 716,1114.9 723,1114.9 729,1116.1 735,1117.3 742,1117.8 748,1118.1 755,1120.1 761,1123.1 767,1125.1 774,1127.6 780,1130.2 786,1131.6 793,1133.1 799,1135.0 805,1136.9 812,1138.3 818,1140.6 824,1143.8 831,1147.0 837,1149.5 844,1150.6 850,1151.6 856,1153.0 863,1154.5 869,1153.9 875,1154.9 882,1154.5 888,1154.1 894,1154.1 901,1153.6 907,1152.5 913,1150.8 920,1150.0 926,1150.8 933,1151.3 939,1150.5 945,1150.3 952,1149.3 958,1149.7 964,1149.5 971,1150.4 977,1150.6 983,1149.8 990,1149.1 996,1147.0 1002,1145.2 1009,1143.0 1015,1139.8 1022,1136.1 1028,1132.8 1034,1128.0 1041,1124.3 1047,1121.7 1053,1119.5 1060,1117.4 1066,1114.5 1072,1112.9 1079,1112.0 1085,1112.5 1091,1113.3 1098,1114.0 1104,1114.9 1111,1117.5 1117,1121.2 1123,1126.1 1130,1131.1 1136,1134.6 1142,1138.0 1149,1139.0 1155,1141.5 1161,1143.3 1168,1145.4 1174,1146.3 1180,1147.0 1187,1147.7 1193,1148.2 1200,1147.7 1206,1146.5 1212,1145.3 1219,1143.2 1225,1141.1 1231,1138.4 1238,1137.8 1244,1135.6 1250,1133.7 1257,1131.9 1263,1131.9 1269,1132.5 1276,1132.3 1282,1131.8 1289,1131.4 1295,1131.3 1301,1131.7 1308,1131.6 1314,1132.2 1320,1133.0 1327,1133.6 1333,1136.3 1339,1138.2 1346,1139.4 1352,1138.5 1358,1136.9 1365,1136.1 1371,1135.0 1378,1133.3 1384,1131.9 1390,1130.1 1397,1129.8 1403,1128.9 1409,1127.5 1416,1126.0 1422,1123.4 1428,1120.7 1435,1119.2 1441,1118.7 1448,1117.7 1454,1116.7 1460,1114.6 1467,1112.6 1473,1109.7 1479,1107.4 1486,1106.2 1492,1106.3 1498,1107.3 1505,1108.3 1511,1109.0 1517,1110.3 1524,1110.3 1530,1111.3 1537,1112.8 1543,1113.7 1549,1116.4 1556,1118.9 1562,1121.7 1568,1123.6 1575,1122.9 1581,1121.0 1587,1117.8 1594,1114.5 1600,1111.0 1606,1107.1 1613,1103.9 1619,1100.0 1626,1096.9 1632,1094.0 1638,1090.6 1645,1089.9 1651,1088.7 1657,1086.8 1664,1084.6 1670,1081.8 1676,1081.2 1683,1081.8 1689,1083.3 1695,1085.3 1702,1087.9 1708,1090.0 1715,1090.4 1721,1089.7 1727,1089.4 1734,1086.7 1740,1084.2 1746,1081.3 1753,1078.9 1759,1076.9 1765,1073.8 1772,1071.7 1778,1069.2 1784,1067.5 1791,1064.8 1797,1062.5 1804,1060.8 1810,1060.9 1816,1060.5 1823,1060.1 1829,1060.0 1835,1061.0 1842,1064.6 1848,1068.5 1854,1072.2 1861,1074.0 1867,1075.4 1873,1076.3 1880,1076.9 1886,1078.3 1893,1080.8 1899,1082.0 1905,1083.6 1912,1085.5 1918,1087.1 1924,1088.5 1931,1090.1 1937,1092.2 1943,1094.0 1950,1096.1 1956,1098.7 1962,1101.4 1969,1104.2 1975,1106.4 1982,1108.1 1988,1111.6 1994,1115.9 2001,1120.3 2007,1125.1 2013,1130.3 2020,1132.8 2026,1134.0 2032,1136.0 2039,1138.4 2045,1140.8 2051,1142.2 2058,1144.3 2064,1146.2 2071,1147.7 2077,1147.5 2083,1145.5 2090,1142.0 2096,1138.1 2102,1134.7 2109,1131.6 2115,1130.7 2121,1130.0 2128,1129.3 2134,1128.0 2141,1127.0 2147,1125.9 2153,1124.7 2160,1122.9 2166,1120.5 2172,1119.3 2179,1118.5 2185,1119.1 2191,1120.3 2198,1121.9 2204,1121.2 2210,1120.7 2217,1119.8 2223,1119.5 2230,1119.3 2236,1119.7 2242,1120.1 2249,1121.9 2255,1124.4 2261,1126.2 2268,1129.3 2274,1132.3 2280,1135.0 2287,1136.8 2293,1139.8 2299,1142.5 2306,1145.2 2312,1147.8 2319,1150.1 2325,1151.9 2331,1153.2 2338,1154.1 2344,1154.5 2350,1155.4 2357,1155.5 2363,1154.9 2369,1153.5 2376,1153.2 2382,1152.8 2388,1151.8 2395,1150.6 2401,1150.1 2408,1149.5 2414,1148.8 2420,1149.9 2427,1150.8 2433,1152.6 2439,1154.1 2446,1156.4 2452,1158.2 2458,1157.3 2465,1157.6 2471,1157.7 2477,1157.7 2484,1157.5" fill="none" stroke="#FDD835" stroke-width="2.2" stroke-linejoin="round"/><polyline points="23,1107.2 30,1098.7 36,1100.8 42,1097.7 49,1113.6 55,1104.5 62,1089.0 68,1108.0 74,1113.4 81,1118.5 87,1117.1 93,1109.7 100,1109.7 106,1091.3 112,1069.2 119,1051.8 125,1050.6 131,1039.4 138,1039.0 144,1035.5 151,1030.6 157,1081.0 163,1078.1 170,1078.6 176,1074.7 182,1067.4 189,1080.7 195,1073.9 201,1092.6 208,1091.4 214,1086.8 220,1103.2 227,1122.7 233,1113.9 240,1123.2 246,1133.6 252,1116.1 259,1114.5 265,1116.0 271,1109.7 278,1100.7 284,1101.6 290,1097.4 297,1092.4 303,1078.1 309,1085.1 316,1098.5 322,1088.3 329,1101.2 335,1117.3 341,1122.1 348,1119.1 354,1121.0 360,1115.4 367,1106.9 373,1104.9 379,1115.9 386,1109.2 392,1114.1 398,1129.1 405,1141.6 411,1134.6 418,1134.6 424,1138.1 430,1143.8 437,1139.5 443,1135.8 449,1130.2 456,1133.4 462,1130.6 468,1131.9 475,1139.2 481,1138.7 487,1142.2 494,1141.1 500,1142.9 507,1146.1 513,1155.1 519,1157.7 526,1155.1 532,1133.8 538,1117.3 545,1116.4 551,1122.8 557,1130.1 564,1137.1 570,1125.9 576,1135.4 583,1135.0 589,1137.6 596,1127.4 602,1131.3 608,1118.6 615,1126.3 621,1118.0 627,1123.0 634,1127.4 640,1107.7 646,1103.6 653,1109.5 659,1117.9 666,1113.0 672,1102.6 678,1113.6 685,1110.2 691,1116.2 697,1117.8 704,1123.6 710,1123.6 716,1122.4 723,1126.8 729,1124.8 735,1119.6 742,1116.7 748,1122.8 755,1141.4 761,1144.2 767,1141.1 774,1145.0 780,1153.4 786,1136.6 793,1144.2 799,1151.4 805,1148.2 812,1146.5 818,1157.2 824,1164.2 831,1161.5 837,1157.4 844,1157.7 850,1158.1 856,1161.3 863,1165.1 869,1144.9 875,1151.0 882,1138.7 888,1146.0 894,1147.8 901,1140.2 907,1141.0 913,1139.8 920,1151.4 926,1168.2 933,1164.2 939,1147.4 945,1158.8 952,1150.5 958,1151.0 964,1148.3 971,1151.6 977,1148.7 983,1136.6 990,1129.7 996,1112.2 1002,1113.5 1009,1120.8 1015,1124.3 1022,1112.6 1028,1100.3 1034,1091.9 1041,1098.5 1047,1114.4 1053,1117.9 1060,1122.3 1066,1108.0 1072,1114.3 1079,1117.6 1085,1118.7 1091,1124.5 1098,1131.2 1104,1136.8 1111,1148.5 1117,1152.9 1123,1159.4 1130,1168.8 1136,1164.1 1142,1164.5 1149,1137.1 1155,1142.6 1161,1140.2 1168,1147.0 1174,1131.3 1180,1134.5 1187,1141.0 1193,1143.3 1200,1140.7 1206,1137.2 1212,1142.8 1219,1138.6 1225,1134.3 1231,1127.3 1238,1128.1 1244,1111.9 1250,1113.9 1257,1121.4 1263,1131.8 1269,1143.4 1276,1136.9 1282,1136.9 1289,1135.0 1295,1135.8 1301,1149.2 1308,1136.5 1314,1142.0 1320,1138.6 1327,1136.9 1333,1149.1 1339,1141.4 1346,1137.9 1352,1119.5 1358,1120.7 1365,1125.6 1371,1122.4 1378,1110.8 1384,1116.6 1390,1124.0 1397,1132.1 1403,1128.7 1409,1119.0 1416,1116.0 1422,1112.9 1428,1104.1 1435,1117.2 1441,1111.8 1448,1106.9 1454,1112.0 1460,1092.0 1467,1083.1 1473,1076.6 1479,1091.1 1486,1115.0 1492,1130.2 1498,1133.6 1505,1129.5 1511,1122.4 1517,1122.4 1524,1117.5 1530,1125.4 1537,1127.9 1543,1124.3 1549,1129.8 1556,1118.5 1562,1116.7 1568,1116.7 1575,1105.2 1581,1103.5 1587,1088.8 1594,1083.2 1600,1074.2 1606,1067.3 1613,1072.8 1619,1070.9 1626,1084.9 1632,1082.9 1638,1082.0 1645,1110.0 1651,1099.4 1657,1090.5 1664,1073.6 1670,1064.0 1676,1080.4 1683,1092.5 1689,1095.3 1695,1094.4 1702,1109.2 1708,1101.2 1715,1090.0 1721,1072.8 1727,1077.7 1734,1072.6 1740,1065.2 1746,1049.0 1753,1039.6 1759,1037.3 1765,1036.0 1772,1063.2 1778,1060.0 1784,1071.3 1791,1070.6 1797,1069.7 1804,1065.6 1810,1074.8 1816,1072.6 1823,1066.8 1829,1063.3 1835,1063.2 1842,1089.4 1848,1092.6 1854,1088.0 1861,1087.7 1867,1080.3 1873,1084.0 1880,1078.3 1886,1089.5 1893,1100.9 1899,1091.6 1905,1095.3 1912,1092.4 1918,1086.4 1924,1082.1 1931,1112.3 1937,1121.8 1943,1113.5 1950,1117.3 1956,1116.2 1962,1121.6 1969,1117.7 1975,1120.3 1982,1124.4 1988,1141.0 1994,1156.1 2001,1153.9 2007,1152.4 2013,1155.1 2020,1147.1 2026,1139.7 2032,1141.0 2039,1150.2 2045,1150.2 2051,1142.2 2058,1146.8 2064,1146.8 2071,1145.5 2077,1137.9 2083,1127.8 2090,1104.7 2096,1098.2 2102,1107.0 2109,1104.2 2115,1127.7 2121,1130.4 2128,1140.3 2134,1132.7 2141,1128.6 2147,1131.2 2153,1130.2 2160,1119.4 2166,1104.7 2172,1110.4 2179,1094.4 2185,1105.5 2191,1124.6 2198,1126.3 2204,1118.3 2210,1122.7 2217,1127.8 2223,1128.2 2230,1126.8 2236,1135.8 2242,1136.7 2249,1144.3 2255,1140.2 2261,1135.3 2268,1137.0 2274,1147.5 2280,1163.6 2287,1151.5 2293,1159.3 2299,1161.7 2306,1164.9 2312,1164.9 2319,1159.3 2325,1161.0 2331,1154.9 2338,1156.4 2344,1146.3 2350,1147.1 2357,1139.0 2363,1139.3 2369,1143.2 2376,1148.2 2382,1152.5 2388,1148.2 2395,1148.2 2401,1158.3 2408,1149.9 2414,1152.3 2420,1169.9 2427,1168.5 2433,1172.1 2439,1168.2 2446,1170.7 2452,1164.1 2458,1130.7 2465,1153.5 2471,1153.5 2477,1148.4 2484,1144.5" fill="none" stroke="#7E57C2" stroke-width="2.3" stroke-linejoin="round"/></g><text x="45.0" y="1073" font-family='"Liberation Sans", sans-serif' font-size="29" font-weight="normal" fill="#131722" stroke="#131722" stroke-width="0.5" text-anchor="start"  textLength="190.5" lengthAdjust="spacingAndGlyphs">RSI (14, close)</text><text x="254.3" y="1073" font-family='"Liberation Sans", sans-serif' font-size="29" font-weight="normal" fill="#7E57C2" stroke="#7E57C2" stroke-width="0.5" text-anchor="start"  textLength="73.4" lengthAdjust="spacingAndGlyphs">39.69</text><text x="346.8" y="1073" font-family='"Liberation Sans", sans-serif' font-size="29" font-weight="normal" fill="#F9CB28" stroke="#F9CB28" stroke-width="0.5" text-anchor="start"  textLength="72.8" lengthAdjust="spacingAndGlyphs">33.32</text><text x="439.4" y="1073" font-family='"Liberation Sans", sans-serif' font-size="29" font-weight="normal" fill="#131722" stroke="#131722" stroke-width="0.5" text-anchor="start"  textLength="17.5" lengthAdjust="spacingAndGlyphs">∅</text><text x="475.7" y="1073" font-family='"Liberation Sans", sans-serif' font-size="29" font-weight="normal" fill="#131722" stroke="#131722" stroke-width="0.5" text-anchor="start"  textLength="19.1" lengthAdjust="spacingAndGlyphs">∅</text><g clip-path="url(#cpMacd)"><path d="M21 1343h4v2h-4zM28 1343h4v2h-4zM34 1343h4v2h-4zM40 1343h4v2h-4zM53 1343h4v2h-4zM60 1343h4v2h-4zM91 1343h4v2h-4zM104 1343h4v2h-4zM110 1343h4v2h-4zM117 1342h4v3h-4zM123 1341h4v4h-4zM129 1340h4v5h-4zM136 1339h4v6h-4zM142 1338h4v7h-4zM149 1337h4v8h-4zM180 1340h4v5h-4zM288 1343h4v2h-4zM295 1343h4v2h-4zM301 1341h4v4h-4zM307 1340h4v5h-4zM320 1341h4v4h-4zM536 1343h4v2h-4zM543 1342h4v3h-4zM549 1342h4v3h-4zM568 1343h4v2h-4zM594 1343h4v2h-4zM606 1343h4v2h-4zM619 1342h4v3h-4zM638 1342h4v3h-4zM644 1341h4v4h-4zM651 1341h4v4h-4zM670 1342h4v3h-4zM880 1343h4v2h-4zM886 1343h4v2h-4zM892 1343h4v2h-4zM899 1343h4v2h-4zM905 1343h4v2h-4zM911 1343h4v2h-4zM975 1343h4v2h-4zM981 1343h4v2h-4zM988 1343h4v2h-4zM994 1342h4v3h-4zM1000 1342h4v3h-4zM1007 1342h4v3h-4zM1020 1342h4v3h-4zM1026 1341h4v4h-4zM1032 1341h4v4h-4zM1039 1341h4v4h-4zM1064 1342h4v3h-4zM1204 1343h4v2h-4zM1217 1343h4v2h-4zM1223 1343h4v2h-4zM1229 1343h4v2h-4zM1236 1343h4v2h-4zM1242 1342h4v3h-4zM1248 1342h4v3h-4zM1350 1343h4v2h-4zM1356 1343h4v2h-4zM1363 1343h4v2h-4zM1369 1343h4v2h-4zM1376 1343h4v2h-4zM1382 1343h4v2h-4zM1407 1343h4v2h-4zM1414 1343h4v2h-4zM1420 1343h4v2h-4zM1426 1343h4v2h-4zM1446 1343h4v2h-4zM1458 1343h4v2h-4zM1465 1342h4v3h-4zM1471 1342h4v3h-4zM1573 1343h4v2h-4zM1579 1343h4v2h-4zM1585 1343h4v2h-4zM1592 1342h4v3h-4zM1598 1342h4v3h-4zM1604 1341h4v4h-4zM1611 1341h4v4h-4zM1655 1343h4v2h-4zM1662 1342h4v3h-4zM1668 1341h4v4h-4zM1674 1341h4v4h-4zM1713 1343h4v2h-4zM1719 1342h4v3h-4zM1725 1341h4v4h-4zM1732 1341h4v4h-4zM1738 1340h4v5h-4zM1744 1337h4v8h-4zM1751 1332h4v13h-4zM1757 1328h4v17h-4zM1763 1326h4v19h-4zM1827 1341h4v4h-4zM2081 1343h4v2h-4zM2088 1340h4v5h-4zM2094 1338h4v7h-4zM2100 1337h4v8h-4zM2107 1336h4v9h-4zM2158 1343h4v2h-4zM2164 1341h4v4h-4zM2170 1340h4v5h-4zM2177 1338h4v7h-4zM2183 1338h4v7h-4zM2355 1343h4v2h-4zM2361 1342h4v3h-4zM2367 1341h4v4h-4zM2393 1342h4v3h-4zM2456 1343h4v2h-4zM2475 1343h4v2h-4zM2482 1343h4v2h-4z" fill="#26A69A"/><path d="M47 1343h4v2h-4zM66 1343h4v2h-4zM72 1343h4v2h-4zM79 1343h4v2h-4zM85 1343h4v2h-4zM98 1343h4v2h-4zM155 1338h4v7h-4zM161 1338h4v7h-4zM168 1339h4v6h-4zM174 1340h4v5h-4zM187 1340h4v5h-4zM193 1341h4v4h-4zM199 1342h4v3h-4zM206 1343h4v2h-4zM212 1343h4v2h-4zM314 1341h4v4h-4zM327 1341h4v4h-4zM333 1343h4v2h-4zM555 1342h4v3h-4zM562 1343h4v2h-4zM574 1343h4v2h-4zM581 1343h4v2h-4zM587 1343h4v2h-4zM600 1343h4v2h-4zM613 1343h4v2h-4zM625 1342h4v3h-4zM632 1343h4v2h-4zM657 1342h4v3h-4zM664 1342h4v3h-4zM676 1342h4v3h-4zM683 1342h4v3h-4zM689 1343h4v2h-4zM695 1343h4v2h-4zM702 1343h4v2h-4zM918 1343h4v2h-4zM1013 1342h4v3h-4zM1045 1341h4v4h-4zM1051 1342h4v3h-4zM1058 1342h4v3h-4zM1070 1343h4v2h-4zM1077 1343h4v2h-4zM1083 1343h4v2h-4zM1089 1343h4v2h-4zM1210 1343h4v2h-4zM1255 1342h4v3h-4zM1261 1343h4v2h-4zM1267 1343h4v2h-4zM1274 1343h4v2h-4zM1280 1343h4v2h-4zM1287 1343h4v2h-4zM1293 1343h4v2h-4zM1388 1343h4v2h-4zM1395 1343h4v2h-4zM1401 1343h4v2h-4zM1433 1343h4v2h-4zM1439 1343h4v2h-4zM1452 1343h4v2h-4zM1477 1342h4v3h-4zM1484 1342h4v3h-4zM1490 1343h4v2h-4zM1617 1341h4v4h-4zM1624 1342h4v3h-4zM1630 1342h4v3h-4zM1636 1342h4v3h-4zM1643 1343h4v2h-4zM1649 1343h4v2h-4zM1681 1342h4v3h-4zM1687 1342h4v3h-4zM1693 1343h4v2h-4zM1700 1343h4v2h-4zM1770 1327h4v18h-4zM1776 1328h4v17h-4zM1782 1331h4v14h-4zM1789 1333h4v12h-4zM1795 1336h4v9h-4zM1802 1337h4v8h-4zM1808 1339h4v6h-4zM1814 1341h4v4h-4zM1821 1341h4v4h-4zM1833 1341h4v4h-4zM2113 1338h4v7h-4zM2119 1340h4v5h-4zM2126 1342h4v3h-4zM2132 1343h4v2h-4zM2139 1343h4v2h-4zM2189 1340h4v5h-4zM2196 1342h4v3h-4zM2202 1342h4v3h-4zM2208 1343h4v2h-4zM2374 1341h4v4h-4zM2380 1342h4v3h-4zM2386 1342h4v3h-4zM2399 1342h4v3h-4zM2406 1342h4v3h-4zM2412 1343h4v2h-4zM2463 1343h4v2h-4z" fill="#B2DFDB"/><path d="M250 1343h4v5h-4zM257 1343h4v4h-4zM263 1343h4v4h-4zM269 1343h4v3h-4zM276 1343h4v2h-4zM282 1343h4v2h-4zM358 1343h4v3h-4zM365 1343h4v3h-4zM371 1343h4v2h-4zM384 1343h4v2h-4zM435 1343h4v5h-4zM441 1343h4v5h-4zM447 1343h4v4h-4zM454 1343h4v3h-4zM460 1343h4v3h-4zM466 1343h4v2h-4zM479 1343h4v2h-4zM492 1343h4v2h-4zM498 1343h4v2h-4zM505 1343h4v2h-4zM524 1343h4v3h-4zM530 1343h4v2h-4zM733 1343h4v2h-4zM740 1343h4v2h-4zM784 1343h4v2h-4zM791 1343h4v2h-4zM803 1343h4v2h-4zM810 1343h4v2h-4zM835 1343h4v3h-4zM842 1343h4v2h-4zM848 1343h4v2h-4zM854 1343h4v2h-4zM861 1343h4v2h-4zM867 1343h4v2h-4zM873 1343h4v2h-4zM937 1343h4v2h-4zM950 1343h4v2h-4zM956 1343h4v2h-4zM962 1343h4v2h-4zM969 1343h4v2h-4zM1140 1343h4v4h-4zM1147 1343h4v3h-4zM1153 1343h4v2h-4zM1159 1343h4v2h-4zM1166 1343h4v2h-4zM1172 1343h4v2h-4zM1178 1343h4v2h-4zM1185 1343h4v2h-4zM1198 1343h4v2h-4zM1306 1343h4v2h-4zM1318 1343h4v2h-4zM1325 1343h4v2h-4zM1337 1343h4v2h-4zM1344 1343h4v2h-4zM1515 1343h4v2h-4zM1522 1343h4v2h-4zM1541 1343h4v2h-4zM1554 1343h4v2h-4zM1560 1343h4v2h-4zM1566 1343h4v2h-4zM1865 1343h4v5h-4zM1878 1343h4v4h-4zM1897 1343h4v6h-4zM1910 1343h4v5h-4zM1916 1343h4v5h-4zM1922 1343h4v3h-4zM1967 1343h4v8h-4zM1973 1343h4v8h-4zM2005 1343h4v13h-4zM2011 1343h4v13h-4zM2018 1343h4v12h-4zM2024 1343h4v10h-4zM2030 1343h4v8h-4zM2037 1343h4v8h-4zM2043 1343h4v7h-4zM2049 1343h4v6h-4zM2056 1343h4v5h-4zM2062 1343h4v4h-4zM2069 1343h4v3h-4zM2075 1343h4v2h-4zM2259 1343h4v4h-4zM2266 1343h4v4h-4zM2310 1343h4v8h-4zM2317 1343h4v7h-4zM2323 1343h4v6h-4zM2329 1343h4v5h-4zM2336 1343h4v3h-4zM2342 1343h4v2h-4zM2348 1343h4v2h-4zM2450 1343h4v2h-4z" fill="#FFCDD2"/><path d="M218 1343h4v2h-4zM225 1343h4v3h-4zM231 1343h4v3h-4zM238 1343h4v4h-4zM244 1343h4v6h-4zM339 1343h4v2h-4zM346 1343h4v3h-4zM352 1343h4v3h-4zM377 1343h4v2h-4zM390 1343h4v2h-4zM396 1343h4v3h-4zM403 1343h4v5h-4zM409 1343h4v5h-4zM416 1343h4v5h-4zM422 1343h4v5h-4zM428 1343h4v6h-4zM473 1343h4v2h-4zM485 1343h4v2h-4zM511 1343h4v2h-4zM517 1343h4v3h-4zM708 1343h4v2h-4zM714 1343h4v2h-4zM721 1343h4v2h-4zM727 1343h4v2h-4zM746 1343h4v2h-4zM753 1343h4v2h-4zM759 1343h4v2h-4zM765 1343h4v2h-4zM772 1343h4v2h-4zM778 1343h4v3h-4zM797 1343h4v3h-4zM816 1343h4v2h-4zM822 1343h4v3h-4zM829 1343h4v3h-4zM924 1343h4v2h-4zM931 1343h4v2h-4zM943 1343h4v2h-4zM1096 1343h4v2h-4zM1102 1343h4v2h-4zM1109 1343h4v2h-4zM1115 1343h4v2h-4zM1121 1343h4v3h-4zM1128 1343h4v3h-4zM1134 1343h4v4h-4zM1191 1343h4v2h-4zM1299 1343h4v2h-4zM1312 1343h4v2h-4zM1331 1343h4v2h-4zM1496 1343h4v2h-4zM1503 1343h4v2h-4zM1509 1343h4v2h-4zM1528 1343h4v2h-4zM1535 1343h4v2h-4zM1547 1343h4v2h-4zM1706 1343h4v2h-4zM1840 1343h4v2h-4zM1846 1343h4v3h-4zM1852 1343h4v4h-4zM1859 1343h4v5h-4zM1871 1343h4v5h-4zM1884 1343h4v5h-4zM1891 1343h4v6h-4zM1903 1343h4v6h-4zM1929 1343h4v5h-4zM1935 1343h4v8h-4zM1941 1343h4v8h-4zM1948 1343h4v8h-4zM1954 1343h4v8h-4zM1960 1343h4v9h-4zM1980 1343h4v8h-4zM1986 1343h4v10h-4zM1992 1343h4v12h-4zM1999 1343h4v13h-4zM2145 1343h4v2h-4zM2151 1343h4v2h-4zM2215 1343h4v2h-4zM2221 1343h4v2h-4zM2228 1343h4v2h-4zM2234 1343h4v3h-4zM2240 1343h4v4h-4zM2247 1343h4v5h-4zM2253 1343h4v5h-4zM2272 1343h4v4h-4zM2278 1343h4v7h-4zM2285 1343h4v7h-4zM2291 1343h4v8h-4zM2297 1343h4v8h-4zM2304 1343h4v8h-4zM2418 1343h4v2h-4zM2425 1343h4v2h-4zM2431 1343h4v3h-4zM2437 1343h4v3h-4zM2444 1343h4v3h-4zM2469 1343h4v2h-4z" fill="#FF5252"/><line x1="25" y1="1344" x2="2938" y2="1344" stroke="#9598A1" stroke-opacity="0.75" stroke-width="2" stroke-dasharray="10 12"/><polyline points="23,1343.7 30,1343.4 36,1343.3 42,1343.1 49,1343.1 55,1343.0 62,1342.7 68,1342.7 74,1342.8 81,1342.9 87,1342.9 93,1342.9 100,1342.9 106,1342.6 112,1342.0 119,1340.4 125,1339.1 131,1336.7 138,1334.9 144,1332.8 151,1329.5 157,1328.9 163,1328.3 170,1328.0 176,1327.5 182,1326.4 189,1326.4 195,1325.7 201,1326.3 208,1326.8 214,1327.0 220,1328.2 227,1330.6 233,1331.9 240,1333.7 246,1336.1 252,1336.7 259,1337.0 265,1337.5 271,1337.3 278,1336.4 284,1335.9 290,1335.1 297,1334.1 303,1331.6 309,1330.3 316,1330.2 322,1329.0 329,1329.2 335,1330.8 341,1332.7 348,1334.0 354,1335.3 360,1335.9 367,1335.7 373,1335.3 379,1336.0 386,1336.0 392,1336.4 398,1338.1 405,1340.7 411,1342.2 418,1343.5 424,1344.7 430,1346.3 437,1347.2 443,1347.6 449,1347.5 456,1347.6 462,1347.5 468,1347.5 475,1347.9 481,1348.2 487,1348.6 494,1348.8 500,1349.0 507,1349.3 513,1350.1 519,1350.9 526,1351.3 532,1350.6 538,1349.2 545,1347.9 551,1347.2 557,1347.0 564,1347.2 570,1346.7 576,1346.9 583,1347.0 589,1347.2 596,1346.8 602,1346.7 608,1346.0 615,1345.7 621,1345.1 627,1344.8 634,1344.8 640,1343.8 646,1342.6 653,1342.0 659,1342.0 666,1341.7 672,1340.8 678,1340.7 685,1340.5 691,1340.6 697,1340.8 704,1341.2 710,1341.6 716,1341.9 723,1342.3 729,1342.6 735,1342.6 742,1342.5 748,1342.7 755,1343.5 761,1344.4 767,1344.9 774,1345.5 780,1346.3 786,1346.4 793,1346.8 799,1347.4 805,1347.8 812,1348.0 818,1348.6 824,1349.5 831,1350.0 837,1350.2 844,1350.3 850,1350.4 856,1350.5 863,1350.7 869,1350.3 875,1350.1 882,1349.6 888,1349.4 894,1349.3 901,1349.0 907,1348.6 913,1348.3 920,1348.4 926,1349.3 933,1349.8 939,1349.7 945,1350.1 952,1350.1 958,1350.1 964,1349.9 971,1349.8 977,1349.7 983,1349.1 990,1348.5 996,1347.3 1002,1346.4 1009,1345.8 1015,1345.5 1022,1344.8 1028,1343.8 1034,1342.6 1041,1341.9 1047,1341.8 1053,1341.9 1060,1342.1 1066,1341.7 1072,1341.7 1079,1341.8 1085,1341.9 1091,1342.2 1098,1342.7 1104,1343.3 1111,1344.2 1117,1345.1 1123,1346.1 1130,1347.4 1136,1348.3 1142,1348.9 1149,1348.6 1155,1348.5 1161,1348.4 1168,1348.5 1174,1348.0 1180,1347.7 1187,1347.7 1193,1347.8 1200,1347.7 1206,1347.5 1212,1347.5 1219,1347.3 1225,1347.1 1231,1346.6 1238,1346.3 1244,1345.5 1250,1345.0 1257,1344.7 1263,1344.8 1269,1345.2 1276,1345.3 1282,1345.4 1289,1345.4 1295,1345.5 1301,1345.8 1308,1345.9 1314,1346.0 1320,1346.0 1327,1346.0 1333,1346.3 1339,1346.3 1346,1346.2 1352,1345.7 1358,1345.3 1365,1345.1 1371,1344.9 1378,1344.3 1384,1344.1 1390,1344.0 1397,1344.2 1403,1344.2 1409,1344.0 1416,1343.8 1422,1343.5 1428,1343.1 1435,1343.0 1441,1342.9 1448,1342.6 1454,1342.5 1460,1341.9 1467,1341.1 1473,1340.1 1479,1339.7 1486,1340.1 1492,1340.9 1498,1341.7 1505,1342.2 1511,1342.4 1517,1342.5 1524,1342.5 1530,1342.8 1537,1343.0 1543,1343.2 1549,1343.4 1556,1343.3 1562,1343.2 1568,1343.1 1575,1342.7 1581,1342.4 1587,1341.7 1594,1340.9 1600,1339.8 1606,1338.7 1613,1337.9 1619,1337.3 1626,1337.1 1632,1337.0 1638,1336.9 1645,1337.6 1651,1337.7 1657,1337.5 1664,1336.4 1670,1334.7 1676,1334.0 1683,1334.0 1689,1334.2 1695,1334.4 1702,1335.2 1708,1335.5 1715,1335.1 1721,1333.2 1727,1332.1 1734,1330.8 1740,1329.0 1746,1324.1 1753,1316.0 1759,1308.2 1765,1301.3 1772,1298.6 1778,1295.9 1784,1295.4 1791,1295.3 1797,1295.6 1804,1295.2 1810,1296.2 1816,1296.9 1823,1296.5 1829,1295.6 1835,1295.4 1842,1298.2 1848,1301.2 1854,1303.2 1861,1305.1 1867,1305.6 1873,1306.7 1880,1306.8 1886,1308.3 1893,1311.0 1899,1311.9 1905,1313.3 1912,1314.3 1918,1314.2 1924,1313.7 1931,1316.8 1937,1320.9 1943,1323.0 1950,1325.4 1956,1327.3 1962,1329.7 1969,1331.2 1975,1332.9 1982,1334.7 1988,1338.5 1994,1344.1 2001,1348.4 2007,1351.4 2013,1354.3 2020,1355.6 2026,1355.7 2032,1355.9 2039,1357.2 2045,1358.1 2051,1357.9 2058,1358.2 2064,1358.3 2071,1358.1 2077,1357.2 2083,1355.5 2090,1351.5 2096,1347.4 2102,1344.9 2109,1342.6 2115,1343.3 2121,1344.1 2128,1346.1 2134,1346.8 2141,1346.9 2147,1347.2 2153,1347.4 2160,1346.3 2166,1343.7 2172,1342.1 2179,1338.6 2185,1337.0 2191,1338.2 2198,1339.4 2204,1339.3 2210,1339.9 2217,1341.0 2223,1342.0 2230,1342.6 2236,1344.2 2242,1345.5 2249,1347.5 2255,1348.7 2261,1349.1 2268,1349.5 2274,1351.1 2280,1354.7 2287,1356.3 2293,1358.8 2299,1361.0 2306,1363.1 2312,1364.5 2319,1365.0 2325,1365.4 2331,1365.0 2338,1364.7 2344,1363.5 2350,1362.4 2357,1360.7 2363,1359.3 2369,1358.3 2376,1357.9 2382,1357.8 2388,1357.4 2395,1356.8 2401,1357.2 2408,1356.9 2414,1356.8 2420,1358.5 2427,1359.6 2433,1360.8 2439,1361.3 2446,1361.9 2452,1361.8 2458,1359.5 2465,1360.0 2471,1360.2 2477,1359.8 2484,1359.1" fill="none" stroke="#2962FF" stroke-width="2.3" stroke-linejoin="round"/><polyline points="23,1343.7 30,1343.6 36,1343.6 42,1343.5 49,1343.4 55,1343.3 62,1343.2 68,1343.1 74,1343.0 81,1343.0 87,1343.0 93,1343.0 100,1342.9 106,1342.9 112,1342.7 119,1342.2 125,1341.6 131,1340.6 138,1339.5 144,1338.1 151,1336.4 157,1334.9 163,1333.6 170,1332.5 176,1331.5 182,1330.5 189,1329.6 195,1328.9 201,1328.3 208,1328.0 214,1327.8 220,1327.9 227,1328.4 233,1329.1 240,1330.0 246,1331.3 252,1332.3 259,1333.3 265,1334.1 271,1334.8 278,1335.1 284,1335.3 290,1335.2 297,1335.0 303,1334.3 309,1333.5 316,1332.8 322,1332.1 329,1331.5 335,1331.4 341,1331.6 348,1332.1 354,1332.8 360,1333.4 367,1333.8 373,1334.1 379,1334.5 386,1334.8 392,1335.1 398,1335.7 405,1336.7 411,1337.8 418,1338.9 424,1340.1 430,1341.3 437,1342.5 443,1343.5 449,1344.3 456,1345.0 462,1345.5 468,1345.9 475,1346.3 481,1346.7 487,1347.1 494,1347.4 500,1347.7 507,1348.0 513,1348.5 519,1348.9 526,1349.4 532,1349.6 538,1349.5 545,1349.2 551,1348.8 557,1348.4 564,1348.2 570,1347.9 576,1347.7 583,1347.6 589,1347.5 596,1347.4 602,1347.2 608,1347.0 615,1346.7 621,1346.4 627,1346.1 634,1345.8 640,1345.4 646,1344.9 653,1344.3 659,1343.8 666,1343.4 672,1342.9 678,1342.5 685,1342.1 691,1341.8 697,1341.6 704,1341.5 710,1341.5 716,1341.6 723,1341.7 729,1341.9 735,1342.0 742,1342.1 748,1342.2 755,1342.5 761,1342.9 767,1343.3 774,1343.7 780,1344.2 786,1344.7 793,1345.1 799,1345.6 805,1346.0 812,1346.4 818,1346.8 824,1347.4 831,1347.9 837,1348.4 844,1348.8 850,1349.1 856,1349.4 863,1349.6 869,1349.8 875,1349.8 882,1349.8 888,1349.7 894,1349.6 901,1349.5 907,1349.3 913,1349.1 920,1349.0 926,1349.0 933,1349.2 939,1349.3 945,1349.4 952,1349.6 958,1349.7 964,1349.7 971,1349.7 977,1349.7 983,1349.6 990,1349.4 996,1349.0 1002,1348.4 1009,1347.9 1015,1347.4 1022,1346.9 1028,1346.3 1034,1345.6 1041,1344.8 1047,1344.2 1053,1343.8 1060,1343.4 1066,1343.1 1072,1342.8 1079,1342.6 1085,1342.5 1091,1342.4 1098,1342.5 1104,1342.6 1111,1342.9 1117,1343.4 1123,1343.9 1130,1344.6 1136,1345.3 1142,1346.1 1149,1346.6 1155,1347.0 1161,1347.2 1168,1347.5 1174,1347.6 1180,1347.6 1187,1347.6 1193,1347.7 1200,1347.7 1206,1347.6 1212,1347.6 1219,1347.5 1225,1347.4 1231,1347.3 1238,1347.1 1244,1346.8 1250,1346.4 1257,1346.1 1263,1345.8 1269,1345.7 1276,1345.6 1282,1345.6 1289,1345.5 1295,1345.5 1301,1345.6 1308,1345.6 1314,1345.7 1320,1345.8 1327,1345.8 1333,1345.9 1339,1346.0 1346,1346.0 1352,1346.0 1358,1345.8 1365,1345.7 1371,1345.5 1378,1345.3 1384,1345.0 1390,1344.8 1397,1344.7 1403,1344.6 1409,1344.5 1416,1344.3 1422,1344.2 1428,1344.0 1435,1343.8 1441,1343.6 1448,1343.4 1454,1343.2 1460,1343.0 1467,1342.6 1473,1342.1 1479,1341.6 1486,1341.3 1492,1341.2 1498,1341.3 1505,1341.5 1511,1341.7 1517,1341.8 1524,1342.0 1530,1342.1 1537,1342.3 1543,1342.5 1549,1342.7 1556,1342.8 1562,1342.9 1568,1342.9 1575,1342.9 1581,1342.8 1587,1342.6 1594,1342.2 1600,1341.8 1606,1341.1 1613,1340.5 1619,1339.8 1626,1339.3 1632,1338.8 1638,1338.4 1645,1338.3 1651,1338.2 1657,1338.0 1664,1337.7 1670,1337.1 1676,1336.5 1683,1336.0 1689,1335.6 1695,1335.4 1702,1335.3 1708,1335.4 1715,1335.3 1721,1334.9 1727,1334.3 1734,1333.6 1740,1332.7 1746,1331.0 1753,1328.0 1759,1324.0 1765,1319.5 1772,1315.3 1778,1311.4 1784,1308.2 1791,1305.6 1797,1303.6 1804,1301.9 1810,1300.8 1816,1300.0 1823,1299.3 1829,1298.6 1835,1297.9 1842,1298.0 1848,1298.6 1854,1299.5 1861,1300.7 1867,1301.6 1873,1302.7 1880,1303.5 1886,1304.5 1893,1305.8 1899,1307.0 1905,1308.3 1912,1309.5 1918,1310.4 1924,1311.1 1931,1312.2 1937,1314.0 1943,1315.8 1950,1317.7 1956,1319.6 1962,1321.6 1969,1323.6 1975,1325.4 1982,1327.3 1988,1329.5 1994,1332.4 2001,1335.6 2007,1338.8 2013,1341.9 2020,1344.6 2026,1346.8 2032,1348.7 2039,1350.4 2045,1351.9 2051,1353.1 2058,1354.1 2064,1355.0 2071,1355.6 2077,1355.9 2083,1355.8 2090,1355.0 2096,1353.4 2102,1351.7 2109,1349.9 2115,1348.6 2121,1347.7 2128,1347.4 2134,1347.3 2141,1347.2 2147,1347.2 2153,1347.2 2160,1347.1 2166,1346.4 2172,1345.5 2179,1344.1 2185,1342.7 2191,1341.8 2198,1341.3 2204,1340.9 2210,1340.7 2217,1340.8 2223,1341.0 2230,1341.3 2236,1341.9 2242,1342.6 2249,1343.6 2255,1344.6 2261,1345.5 2268,1346.3 2274,1347.3 2280,1348.7 2287,1350.3 2293,1352.0 2299,1353.8 2306,1355.6 2312,1357.4 2319,1358.9 2325,1360.2 2331,1361.2 2338,1361.9 2344,1362.2 2350,1362.2 2357,1361.9 2363,1361.4 2369,1360.8 2376,1360.2 2382,1359.7 2388,1359.3 2395,1358.8 2401,1358.5 2408,1358.2 2414,1357.9 2420,1358.0 2427,1358.3 2433,1358.8 2439,1359.3 2446,1359.8 2452,1360.2 2458,1360.1 2465,1360.1 2471,1360.1 2477,1360.0 2484,1359.8" fill="none" stroke="#FF6D00" stroke-width="2.3" stroke-linejoin="round"/></g><text x="45.0" y="1240.7" font-family='"Liberation Sans", sans-serif' font-size="29" font-weight="normal" fill="#131722" stroke="#131722" stroke-width="0.5" text-anchor="start"  textLength="277.4" lengthAdjust="spacingAndGlyphs">MACD (12, 26, close)</text><text x="340.6" y="1240.7" font-family='"Liberation Sans", sans-serif' font-size="29" font-weight="normal" fill="#22AB94" stroke="#22AB94" stroke-width="0.5" text-anchor="start"  textLength="102.9" lengthAdjust="spacingAndGlyphs">0.00101</text><text x="464.8" y="1240.7" font-family='"Liberation Sans", sans-serif' font-size="29" font-weight="normal" fill="#2962FF" stroke="#2962FF" stroke-width="0.5" text-anchor="start"  textLength="120.1" lengthAdjust="spacingAndGlyphs">−0.02006</text><text x="603.0" y="1240.7" font-family='"Liberation Sans", sans-serif' font-size="29" font-weight="normal" fill="#FF6D00" stroke="#FF6D00" stroke-width="0.5" text-anchor="start"  textLength="121.6" lengthAdjust="spacingAndGlyphs">−0.02107</text><text x="2961.4" y="130.4" font-family='"Liberation Sans", sans-serif' font-size="29" font-weight="normal" fill="#131722" stroke="#131722" stroke-width="0.5" text-anchor="start" >0.50000</text><text x="2961.4" y="227.1" font-family='"Liberation Sans", sans-serif' font-size="29" font-weight="normal" fill="#131722" stroke="#131722" stroke-width="0.5" text-anchor="start" >0.45000</text><text x="2961.4" y="323.8" font-family='"Liberation Sans", sans-serif' font-size="29" font-weight="normal" fill="#131722" stroke="#131722" stroke-width="0.5" text-anchor="start" >0.40000</text><text x="2961.4" y="420.5" font-family='"Liberation Sans", sans-serif' font-size="29" font-weight="normal" fill="#131722" stroke="#131722" stroke-width="0.5" text-anchor="start" >0.35000</text><text x="2961.4" y="517.2" font-family='"Liberation Sans", sans-serif' font-size="29" font-weight="normal" fill="#131722" stroke="#131722" stroke-width="0.5" text-anchor="start" >0.30000</text><text x="2961.4" y="613.9" font-family='"Liberation Sans", sans-serif' font-size="29" font-weight="normal" fill="#131722" stroke="#131722" stroke-width="0.5" text-anchor="start" >0.25000</text><text x="2961.4" y="710.6" font-family='"Liberation Sans", sans-serif' font-size="29" font-weight="normal" fill="#131722" stroke="#131722" stroke-width="0.5" text-anchor="start" >0.20000</text><text x="2961.4" y="807.3" font-family='"Liberation Sans", sans-serif' font-size="29" font-weight="normal" fill="#131722" stroke="#131722" stroke-width="0.5" text-anchor="start" >0.15000</text><text x="2961.4" y="904.0" font-family='"Liberation Sans", sans-serif' font-size="29" font-weight="normal" fill="#131722" stroke="#131722" stroke-width="0.5" text-anchor="start" >0.10000</text><text x="2961.4" y="1000.7" font-family='"Liberation Sans", sans-serif' font-size="29" font-weight="normal" fill="#131722" stroke="#131722" stroke-width="0.5" text-anchor="start" >0.05000</text><text x="2961.4" y="1072.2" font-family='"Liberation Sans", sans-serif' font-size="29" font-weight="normal" fill="#131722" stroke="#131722" stroke-width="0.5" text-anchor="start" >80.00</text><text x="2961.4" y="1277.5" font-family='"Liberation Sans", sans-serif' font-size="29" font-weight="normal" fill="#131722" stroke="#131722" stroke-width="0.5" text-anchor="start" >0.10000</text><g><path d="M2940 263.2H3075Q3080 263.2 3080 268.2V301.8Q3080 306.8 3075 306.8H2940Z" fill="#F23645"/><text x="2961.4" y="295.4" font-family='"Liberation Sans", sans-serif' font-size="29" fill="#ffffff" stroke="#ffffff" stroke-width="0.5">0.41449</text></g><g><path d="M2940 465.4H3075Q3080 465.4 3080 470.4V503.8Q3080 508.8 3075 508.8H2940Z" fill="#F23645"/><text x="2961.4" y="497.5" font-family='"Liberation Sans", sans-serif' font-size="29" fill="#ffffff" stroke="#ffffff" stroke-width="0.5">0.31032</text></g><g><path d="M2940 588.4H3075Q3080 588.4 3080 593.4V626.5Q3080 631.5 3075 631.5H2940Z" fill="#F23645"/><text x="2961.4" y="620.4" font-family='"Liberation Sans", sans-serif' font-size="29" fill="#ffffff" stroke="#ffffff" stroke-width="0.5">0.24684</text></g><path d="M2940 661H3085Q3090 661 3090 666V735Q3090 740 3085 740H2940Z" fill="#089981"/><text x="2961.4" y="693.5" font-family='"Liberation Sans", sans-serif' font-size="29" font-weight="normal" fill="#ffffff" stroke="#ffffff" stroke-width="0.5" text-anchor="start" >0.20905</text><text x="2961.3" y="728.5" font-family='"Liberation Sans", sans-serif' font-size="29" font-weight="normal" fill="#C2E6E0" stroke="#C2E6E0" stroke-width="0.5" text-anchor="start"  textLength="115.7" lengthAdjust="spacingAndGlyphs">11:34:33</text><g><path d="M2940 885.4H3075Q3080 885.4 3080 890.4V923.7Q3080 928.7 3075 928.7H2940Z" fill="#4CAF50"/><text x="2961.4" y="917.4" font-family='"Liberation Sans", sans-serif' font-size="29" fill="#ffffff" stroke="#ffffff" stroke-width="0.5">0.09317</text></g><g><path d="M2940 1123H3043Q3048 1123 3048 1128V1160.8Q3048 1165.8 3043 1165.8H2940Z" fill="#7E57C2"/><text x="2961.4" y="1154.8" font-family='"Liberation Sans", sans-serif' font-size="29" fill="#ffffff" stroke="#ffffff" stroke-width="0.5">39.69</text></g><g clip-path="url(#cpRsiAx)"><path d="M2940 1166H3043Q3048 1166 3048 1171V1204Q3048 1209 3043 1209H2940Z" fill="#FDD835"/><text x="2961.4" y="1197.9" font-family='"Liberation Sans", sans-serif' font-size="29" fill="#131722" stroke="#131722" stroke-width="0.5">33.32</text></g><g><path d="M2940 1321.2H3075Q3080 1321.2 3080 1326.2V1357.5Q3080 1362.5 3075 1362.5H2940Z" fill="#26A69A"/><text x="2961.4" y="1352.2" font-family='"Liberation Sans", sans-serif' font-size="29" fill="#ffffff" stroke="#ffffff" stroke-width="0.5">0.00101</text></g><g><path d="M2940 1362.5H3090Q3095 1362.5 3095 1367.5V1401Q3095 1406 3090 1406H2940Z" fill="#2962FF"/><text x="2961.4" y="1394.7" font-family='"Liberation Sans", sans-serif' font-size="29" fill="#ffffff" stroke="#ffffff" stroke-width="0.5">−0.02006</text></g><g clip-path="url(#cpMacdAx)"><path d="M2940 1406H3090Q3095 1406 3095 1411V1444Q3095 1449 3090 1449H2940Z" fill="#FF6D00"/><text x="2961.4" y="1437.9" font-family='"Liberation Sans", sans-serif' font-size="29" fill="#ffffff" stroke="#ffffff" stroke-width="0.5">−0.02107</text></g><text x="131" y="1470.5" font-family='"Liberation Sans", sans-serif' font-size="29" font-weight="normal" fill="#131722" stroke="#131722" stroke-width="0.5" text-anchor="middle" >Mar</text><text x="329" y="1470.5" font-family='"Liberation Sans", sans-serif' font-size="29" font-weight="normal" fill="#131722" stroke="#131722" stroke-width="0.5" text-anchor="middle" >Apr</text><text x="519" y="1470.5" font-family='"Liberation Sans", sans-serif' font-size="29" font-weight="normal" fill="#131722" stroke="#131722" stroke-width="0.5" text-anchor="middle" >May</text><text x="716" y="1470.5" font-family='"Liberation Sans", sans-serif' font-size="29" font-weight="normal" fill="#131722" stroke="#131722" stroke-width="0.5" text-anchor="middle" >Jun</text><text x="907" y="1470.5" font-family='"Liberation Sans", sans-serif' font-size="29" font-weight="normal" fill="#131722" stroke="#131722" stroke-width="0.5" text-anchor="middle" >Jul</text><text x="1104" y="1470.5" font-family='"Liberation Sans", sans-serif' font-size="29" font-weight="normal" fill="#131722" stroke="#131722" stroke-width="0.5" text-anchor="middle" >Aug</text><text x="1301" y="1470.5" font-family='"Liberation Sans", sans-serif' font-size="29" font-weight="normal" fill="#131722" stroke="#131722" stroke-width="0.5" text-anchor="middle" >Sep</text><text x="1492" y="1470.5" font-family='"Liberation Sans", sans-serif' font-size="29" font-weight="normal" fill="#131722" stroke="#131722" stroke-width="0.5" text-anchor="middle" >Oct</text><text x="1689" y="1470.5" font-family='"Liberation Sans", sans-serif' font-size="29" font-weight="normal" fill="#131722" stroke="#131722" stroke-width="0.5" text-anchor="middle" >Nov</text><text x="1880" y="1470.5" font-family='"Liberation Sans", sans-serif' font-size="29" font-weight="normal" fill="#131722" stroke="#131722" stroke-width="0.5" text-anchor="middle" >Dec</text><text x="2042.8" y="1470" font-family='"Liberation Sans", sans-serif' font-size="30" font-weight="bold" fill="#131722" stroke="#131722" stroke-width="0" text-anchor="start"  textLength="68.2" lengthAdjust="spacingAndGlyphs">2025</text><text x="2274" y="1470.5" font-family='"Liberation Sans", sans-serif' font-size="29" font-weight="normal" fill="#131722" stroke="#131722" stroke-width="0.5" text-anchor="middle" >Feb</text><text x="2452" y="1470.5" font-family='"Liberation Sans", sans-serif' font-size="29" font-weight="normal" fill="#131722" stroke="#131722" stroke-width="0.5" text-anchor="middle" >Mar</text><text x="2649" y="1470.5" font-family='"Liberation Sans", sans-serif' font-size="29" font-weight="normal" fill="#131722" stroke="#131722" stroke-width="0.5" text-anchor="middle" >Apr</text><text x="2840" y="1470.5" font-family='"Liberation Sans", sans-serif' font-size="29" font-weight="normal" fill="#131722" stroke="#131722" stroke-width="0.5" text-anchor="middle" >May</text><circle cx="2484" cy="991.9" r="24.6" fill="#ffffff" stroke="#9C27B0" stroke-width="3.3"/><path d="M2490.3 978.4Q2491.5 977.8 2492 980.1L2484.4 990.4H2494.7L2477.7 1005.4Q2476.5 1006 2475.8 1003.6L2483.4 993.2H2473.1Z" fill="#9C27B0"/><g fill="#131313"><path d="M24.9 1524.2H44.6V1548.9H34.7V1533.8H24.9Z"/><circle cx="52.8" cy="1529.7" r="5.25"/><path d="M62.9 1524.2H74L64 1548.9H52.8Z"/></g><text x="81.8" y="1549.4" font-family='"Liberation Sans", sans-serif' font-size="33" font-weight="normal" fill="#131313" stroke="#131313" stroke-width="0.5" text-anchor="start" stroke-opacity="0" textLength="177.9" lengthAdjust="spacingAndGlyphs">TradingView</text></svg></body></html>
